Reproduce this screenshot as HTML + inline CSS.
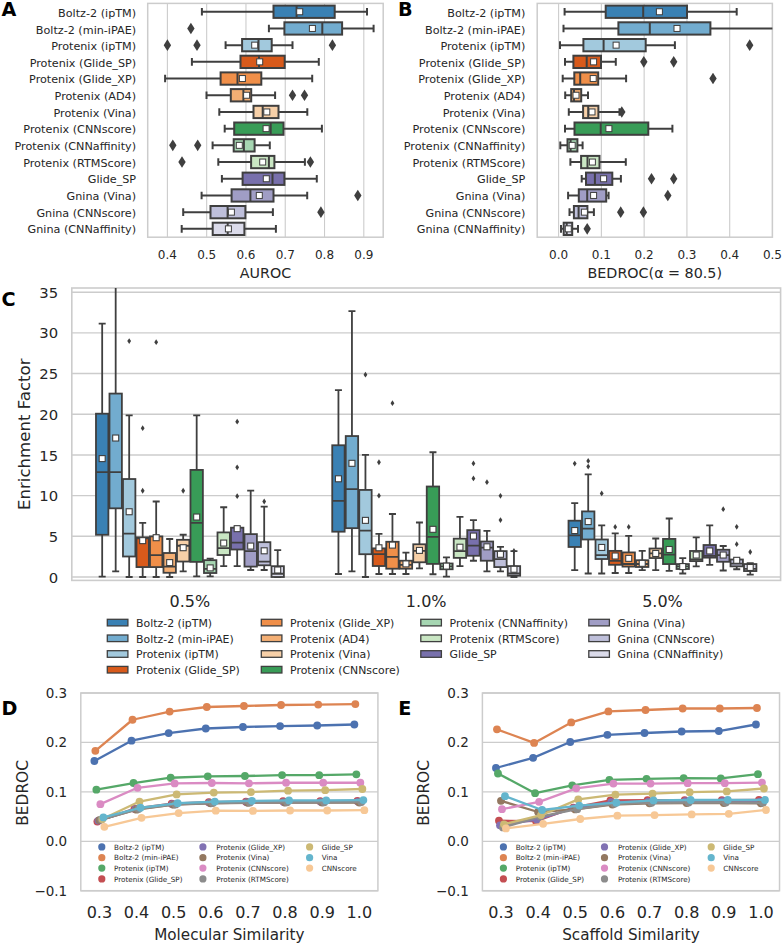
<!DOCTYPE html>
<html><head><meta charset="utf-8"><title>Figure</title>
<style>
html,body{margin:0;padding:0;background:#fff;}
body{width:784px;height:945px;overflow:hidden;}
svg{display:block;}
</style></head><body>
<svg width="784" height="945" viewBox="0 0 784 945">
<clipPath id="c0"><rect x="147.7" y="3.4" width="235.5" height="233.8"/></clipPath>
<line x1="167.4" y1="3.4" x2="167.4" y2="237.2" stroke="#cccccc" stroke-width="1.1"/>
<line x1="206.68" y1="3.4" x2="206.68" y2="237.2" stroke="#cccccc" stroke-width="1.1"/>
<line x1="245.96" y1="3.4" x2="245.96" y2="237.2" stroke="#cccccc" stroke-width="1.1"/>
<line x1="285.24" y1="3.4" x2="285.24" y2="237.2" stroke="#cccccc" stroke-width="1.1"/>
<line x1="324.52" y1="3.4" x2="324.52" y2="237.2" stroke="#cccccc" stroke-width="1.1"/>
<line x1="363.8" y1="3.4" x2="363.8" y2="237.2" stroke="#cccccc" stroke-width="1.1"/>
<rect x="147.7" y="3.4" width="235.5" height="233.8" fill="none" stroke="#cccccc" stroke-width="1.5"/>
<g clip-path="url(#c0)">
<line x1="201.9" y1="11.75" x2="273.5" y2="11.75" stroke="#3f3f3f" stroke-width="2"/>
<line x1="334.7" y1="11.75" x2="367" y2="11.75" stroke="#3f3f3f" stroke-width="2"/>
<line x1="201.9" y1="7.95" x2="201.9" y2="15.55" stroke="#3f3f3f" stroke-width="2"/>
<line x1="367" y1="7.95" x2="367" y2="15.55" stroke="#3f3f3f" stroke-width="2"/>
<rect x="273.5" y="5.6" width="61.2" height="12.3" fill="#3a81b4" stroke="#3f3f3f" stroke-width="2"/>
<line x1="296.6" y1="5.6" x2="296.6" y2="17.9" stroke="#3f3f3f" stroke-width="2"/>
<rect x="296.7" y="8.75" width="6" height="6" fill="#ffffff" stroke="#3f3f3f" stroke-width="1"/>
<line x1="268.9" y1="28.45" x2="284.4" y2="28.45" stroke="#3f3f3f" stroke-width="2"/>
<line x1="342.1" y1="28.45" x2="373.6" y2="28.45" stroke="#3f3f3f" stroke-width="2"/>
<line x1="268.9" y1="24.65" x2="268.9" y2="32.25" stroke="#3f3f3f" stroke-width="2"/>
<line x1="373.6" y1="24.65" x2="373.6" y2="32.25" stroke="#3f3f3f" stroke-width="2"/>
<rect x="284.4" y="22.3" width="57.7" height="12.3" fill="#72accf" stroke="#3f3f3f" stroke-width="2"/>
<line x1="322.3" y1="22.3" x2="322.3" y2="34.6" stroke="#3f3f3f" stroke-width="2"/>
<rect x="309.4" y="25.45" width="6" height="6" fill="#ffffff" stroke="#3f3f3f" stroke-width="1"/>
<path d="M190.9 22.65L194.6 28.45L190.9 34.25L187.2 28.45Z" fill="#3f3f3f"/>
<line x1="225.6" y1="45.15" x2="242.1" y2="45.15" stroke="#3f3f3f" stroke-width="2"/>
<line x1="271.7" y1="45.15" x2="292.5" y2="45.15" stroke="#3f3f3f" stroke-width="2"/>
<line x1="225.6" y1="41.35" x2="225.6" y2="48.95" stroke="#3f3f3f" stroke-width="2"/>
<line x1="292.5" y1="41.35" x2="292.5" y2="48.95" stroke="#3f3f3f" stroke-width="2"/>
<rect x="242.1" y="39" width="29.6" height="12.3" fill="#a2c9dd" stroke="#3f3f3f" stroke-width="2"/>
<line x1="258.5" y1="39" x2="258.5" y2="51.3" stroke="#3f3f3f" stroke-width="2"/>
<rect x="251.7" y="42.15" width="6" height="6" fill="#ffffff" stroke="#3f3f3f" stroke-width="1"/>
<path d="M167.4 39.35L171.1 45.15L167.4 50.95L163.7 45.15Z" fill="#3f3f3f"/>
<path d="M197 39.35L200.7 45.15L197 50.95L193.3 45.15Z" fill="#3f3f3f"/>
<path d="M332.4 39.35L336.1 45.15L332.4 50.95L328.7 45.15Z" fill="#3f3f3f"/>
<line x1="191.9" y1="61.85" x2="240.5" y2="61.85" stroke="#3f3f3f" stroke-width="2"/>
<line x1="284.7" y1="61.85" x2="318.8" y2="61.85" stroke="#3f3f3f" stroke-width="2"/>
<line x1="191.9" y1="58.05" x2="191.9" y2="65.65" stroke="#3f3f3f" stroke-width="2"/>
<line x1="318.8" y1="58.05" x2="318.8" y2="65.65" stroke="#3f3f3f" stroke-width="2"/>
<rect x="240.5" y="55.7" width="44.2" height="12.3" fill="#d85a1b" stroke="#3f3f3f" stroke-width="2"/>
<line x1="259" y1="55.7" x2="259" y2="68" stroke="#3f3f3f" stroke-width="2"/>
<rect x="256.7" y="58.85" width="6" height="6" fill="#ffffff" stroke="#3f3f3f" stroke-width="1"/>
<line x1="165.1" y1="78.55" x2="220.6" y2="78.55" stroke="#3f3f3f" stroke-width="2"/>
<line x1="261.3" y1="78.55" x2="312.2" y2="78.55" stroke="#3f3f3f" stroke-width="2"/>
<line x1="165.1" y1="74.75" x2="165.1" y2="82.35" stroke="#3f3f3f" stroke-width="2"/>
<line x1="312.2" y1="74.75" x2="312.2" y2="82.35" stroke="#3f3f3f" stroke-width="2"/>
<rect x="220.6" y="72.4" width="40.7" height="12.3" fill="#f08f49" stroke="#3f3f3f" stroke-width="2"/>
<line x1="237.5" y1="72.4" x2="237.5" y2="84.7" stroke="#3f3f3f" stroke-width="2"/>
<rect x="239.4" y="75.55" width="6" height="6" fill="#ffffff" stroke="#3f3f3f" stroke-width="1"/>
<line x1="206.5" y1="95.25" x2="230.8" y2="95.25" stroke="#3f3f3f" stroke-width="2"/>
<line x1="251.2" y1="95.25" x2="275.1" y2="95.25" stroke="#3f3f3f" stroke-width="2"/>
<line x1="206.5" y1="91.45" x2="206.5" y2="99.05" stroke="#3f3f3f" stroke-width="2"/>
<line x1="275.1" y1="91.45" x2="275.1" y2="99.05" stroke="#3f3f3f" stroke-width="2"/>
<rect x="230.8" y="89.1" width="20.4" height="12.3" fill="#f4af74" stroke="#3f3f3f" stroke-width="2"/>
<line x1="243.4" y1="89.1" x2="243.4" y2="101.4" stroke="#3f3f3f" stroke-width="2"/>
<rect x="243.6" y="92.25" width="6" height="6" fill="#ffffff" stroke="#3f3f3f" stroke-width="1"/>
<path d="M292.5 89.45L296.2 95.25L292.5 101.05L288.8 95.25Z" fill="#3f3f3f"/>
<path d="M304.5 89.45L308.2 95.25L304.5 101.05L300.8 95.25Z" fill="#3f3f3f"/>
<line x1="219.3" y1="111.95" x2="253.5" y2="111.95" stroke="#3f3f3f" stroke-width="2"/>
<line x1="278.5" y1="111.95" x2="307.3" y2="111.95" stroke="#3f3f3f" stroke-width="2"/>
<line x1="219.3" y1="108.15" x2="219.3" y2="115.75" stroke="#3f3f3f" stroke-width="2"/>
<line x1="307.3" y1="108.15" x2="307.3" y2="115.75" stroke="#3f3f3f" stroke-width="2"/>
<rect x="253.5" y="105.8" width="25" height="12.3" fill="#f7d0a8" stroke="#3f3f3f" stroke-width="2"/>
<line x1="262.7" y1="105.8" x2="262.7" y2="118.1" stroke="#3f3f3f" stroke-width="2"/>
<rect x="263.8" y="108.95" width="6" height="6" fill="#ffffff" stroke="#3f3f3f" stroke-width="1"/>
<line x1="224.7" y1="128.65" x2="234.2" y2="128.65" stroke="#3f3f3f" stroke-width="2"/>
<line x1="283.5" y1="128.65" x2="321.9" y2="128.65" stroke="#3f3f3f" stroke-width="2"/>
<line x1="224.7" y1="124.85" x2="224.7" y2="132.45" stroke="#3f3f3f" stroke-width="2"/>
<line x1="321.9" y1="124.85" x2="321.9" y2="132.45" stroke="#3f3f3f" stroke-width="2"/>
<rect x="234.2" y="122.5" width="49.3" height="12.3" fill="#389c57" stroke="#3f3f3f" stroke-width="2"/>
<line x1="270.7" y1="122.5" x2="270.7" y2="134.8" stroke="#3f3f3f" stroke-width="2"/>
<rect x="263.1" y="125.65" width="6" height="6" fill="#ffffff" stroke="#3f3f3f" stroke-width="1"/>
<line x1="212.6" y1="145.35" x2="233.7" y2="145.35" stroke="#3f3f3f" stroke-width="2"/>
<line x1="254.6" y1="145.35" x2="269.8" y2="145.35" stroke="#3f3f3f" stroke-width="2"/>
<line x1="212.6" y1="141.55" x2="212.6" y2="149.15" stroke="#3f3f3f" stroke-width="2"/>
<line x1="269.8" y1="141.55" x2="269.8" y2="149.15" stroke="#3f3f3f" stroke-width="2"/>
<rect x="233.7" y="139.2" width="20.9" height="12.3" fill="#a6d6b2" stroke="#3f3f3f" stroke-width="2"/>
<line x1="243.9" y1="139.2" x2="243.9" y2="151.5" stroke="#3f3f3f" stroke-width="2"/>
<rect x="236.3" y="142.35" width="6" height="6" fill="#ffffff" stroke="#3f3f3f" stroke-width="1"/>
<path d="M172.8 139.55L176.5 145.35L172.8 151.15L169.1 145.35Z" fill="#3f3f3f"/>
<path d="M197.7 139.55L201.4 145.35L197.7 151.15L194 145.35Z" fill="#3f3f3f"/>
<line x1="218.3" y1="162.05" x2="251.1" y2="162.05" stroke="#3f3f3f" stroke-width="2"/>
<line x1="274.4" y1="162.05" x2="304.9" y2="162.05" stroke="#3f3f3f" stroke-width="2"/>
<line x1="218.3" y1="158.25" x2="218.3" y2="165.85" stroke="#3f3f3f" stroke-width="2"/>
<line x1="304.9" y1="158.25" x2="304.9" y2="165.85" stroke="#3f3f3f" stroke-width="2"/>
<rect x="251.1" y="155.9" width="23.3" height="12.3" fill="#c9e6c3" stroke="#3f3f3f" stroke-width="2"/>
<line x1="268.9" y1="155.9" x2="268.9" y2="168.2" stroke="#3f3f3f" stroke-width="2"/>
<rect x="259.7" y="159.05" width="6" height="6" fill="#ffffff" stroke="#3f3f3f" stroke-width="1"/>
<path d="M182 156.25L185.7 162.05L182 167.85L178.3 162.05Z" fill="#3f3f3f"/>
<path d="M310.4 156.25L314.1 162.05L310.4 167.85L306.7 162.05Z" fill="#3f3f3f"/>
<line x1="221.9" y1="178.75" x2="242.6" y2="178.75" stroke="#3f3f3f" stroke-width="2"/>
<line x1="284.4" y1="178.75" x2="316.8" y2="178.75" stroke="#3f3f3f" stroke-width="2"/>
<line x1="221.9" y1="174.95" x2="221.9" y2="182.55" stroke="#3f3f3f" stroke-width="2"/>
<line x1="316.8" y1="174.95" x2="316.8" y2="182.55" stroke="#3f3f3f" stroke-width="2"/>
<rect x="242.6" y="172.6" width="41.8" height="12.3" fill="#7870ac" stroke="#3f3f3f" stroke-width="2"/>
<line x1="272.5" y1="172.6" x2="272.5" y2="184.9" stroke="#3f3f3f" stroke-width="2"/>
<rect x="263.3" y="175.75" width="6" height="6" fill="#ffffff" stroke="#3f3f3f" stroke-width="1"/>
<line x1="201.6" y1="195.45" x2="231.6" y2="195.45" stroke="#3f3f3f" stroke-width="2"/>
<line x1="273.5" y1="195.45" x2="307.2" y2="195.45" stroke="#3f3f3f" stroke-width="2"/>
<line x1="201.6" y1="191.65" x2="201.6" y2="199.25" stroke="#3f3f3f" stroke-width="2"/>
<line x1="307.2" y1="191.65" x2="307.2" y2="199.25" stroke="#3f3f3f" stroke-width="2"/>
<rect x="231.6" y="189.3" width="41.9" height="12.3" fill="#a09dc5" stroke="#3f3f3f" stroke-width="2"/>
<line x1="250.4" y1="189.3" x2="250.4" y2="201.6" stroke="#3f3f3f" stroke-width="2"/>
<rect x="256.3" y="192.45" width="6" height="6" fill="#ffffff" stroke="#3f3f3f" stroke-width="1"/>
<path d="M357.8 189.65L361.5 195.45L357.8 201.25L354.1 195.45Z" fill="#3f3f3f"/>
<line x1="183.2" y1="212.15" x2="210.5" y2="212.15" stroke="#3f3f3f" stroke-width="2"/>
<line x1="245.4" y1="212.15" x2="272.9" y2="212.15" stroke="#3f3f3f" stroke-width="2"/>
<line x1="183.2" y1="208.35" x2="183.2" y2="215.95" stroke="#3f3f3f" stroke-width="2"/>
<line x1="272.9" y1="208.35" x2="272.9" y2="215.95" stroke="#3f3f3f" stroke-width="2"/>
<rect x="210.5" y="206" width="34.9" height="12.3" fill="#bebfda" stroke="#3f3f3f" stroke-width="2"/>
<line x1="227.6" y1="206" x2="227.6" y2="218.3" stroke="#3f3f3f" stroke-width="2"/>
<rect x="228.4" y="209.15" width="6" height="6" fill="#ffffff" stroke="#3f3f3f" stroke-width="1"/>
<path d="M320.9 206.35L324.6 212.15L320.9 217.95L317.2 212.15Z" fill="#3f3f3f"/>
<line x1="181.7" y1="228.85" x2="212.7" y2="228.85" stroke="#3f3f3f" stroke-width="2"/>
<line x1="244.4" y1="228.85" x2="275.9" y2="228.85" stroke="#3f3f3f" stroke-width="2"/>
<line x1="181.7" y1="225.05" x2="181.7" y2="232.65" stroke="#3f3f3f" stroke-width="2"/>
<line x1="275.9" y1="225.05" x2="275.9" y2="232.65" stroke="#3f3f3f" stroke-width="2"/>
<rect x="212.7" y="222.7" width="31.7" height="12.3" fill="#dbdbea" stroke="#3f3f3f" stroke-width="2"/>
<line x1="227.7" y1="222.7" x2="227.7" y2="235" stroke="#3f3f3f" stroke-width="2"/>
<rect x="225.4" y="225.85" width="6" height="6" fill="#ffffff" stroke="#3f3f3f" stroke-width="1"/>
</g>
<text x="136.1" y="16.9" font-size="11.2" text-anchor="end" font-weight="normal" fill="#262626" font-family="'DejaVu Sans', 'Liberation Sans', sans-serif">Boltz-2 (ipTM)</text>
<text x="136.1" y="33.54" font-size="11.2" text-anchor="end" font-weight="normal" fill="#262626" font-family="'DejaVu Sans', 'Liberation Sans', sans-serif">Boltz-2 (min-iPAE)</text>
<text x="136.1" y="50.18" font-size="11.2" text-anchor="end" font-weight="normal" fill="#262626" font-family="'DejaVu Sans', 'Liberation Sans', sans-serif">Protenix (ipTM)</text>
<text x="136.1" y="66.82" font-size="11.2" text-anchor="end" font-weight="normal" fill="#262626" font-family="'DejaVu Sans', 'Liberation Sans', sans-serif">Protenix (Glide_SP)</text>
<text x="136.1" y="83.46" font-size="11.2" text-anchor="end" font-weight="normal" fill="#262626" font-family="'DejaVu Sans', 'Liberation Sans', sans-serif">Protenix (Glide_XP)</text>
<text x="136.1" y="100.1" font-size="11.2" text-anchor="end" font-weight="normal" fill="#262626" font-family="'DejaVu Sans', 'Liberation Sans', sans-serif">Protenix (AD4)</text>
<text x="136.1" y="116.74" font-size="11.2" text-anchor="end" font-weight="normal" fill="#262626" font-family="'DejaVu Sans', 'Liberation Sans', sans-serif">Protenix (Vina)</text>
<text x="136.1" y="133.38" font-size="11.2" text-anchor="end" font-weight="normal" fill="#262626" font-family="'DejaVu Sans', 'Liberation Sans', sans-serif">Protenix (CNNscore)</text>
<text x="136.1" y="150.02" font-size="11.2" text-anchor="end" font-weight="normal" fill="#262626" font-family="'DejaVu Sans', 'Liberation Sans', sans-serif">Protenix (CNNaffinity)</text>
<text x="136.1" y="166.66" font-size="11.2" text-anchor="end" font-weight="normal" fill="#262626" font-family="'DejaVu Sans', 'Liberation Sans', sans-serif">Protenix (RTMScore)</text>
<text x="136.1" y="183.3" font-size="11.2" text-anchor="end" font-weight="normal" fill="#262626" font-family="'DejaVu Sans', 'Liberation Sans', sans-serif">Glide_SP</text>
<text x="136.1" y="199.94" font-size="11.2" text-anchor="end" font-weight="normal" fill="#262626" font-family="'DejaVu Sans', 'Liberation Sans', sans-serif">Gnina (Vina)</text>
<text x="136.1" y="216.58" font-size="11.2" text-anchor="end" font-weight="normal" fill="#262626" font-family="'DejaVu Sans', 'Liberation Sans', sans-serif">Gnina (CNNscore)</text>
<text x="136.1" y="233.22" font-size="11.2" text-anchor="end" font-weight="normal" fill="#262626" font-family="'DejaVu Sans', 'Liberation Sans', sans-serif">Gnina (CNNaffinity)</text>
<text x="167.4" y="258.7" font-size="12" text-anchor="middle" font-weight="normal" fill="#262626" font-family="'DejaVu Sans', 'Liberation Sans', sans-serif">0.4</text>
<text x="206.68" y="258.7" font-size="12" text-anchor="middle" font-weight="normal" fill="#262626" font-family="'DejaVu Sans', 'Liberation Sans', sans-serif">0.5</text>
<text x="245.96" y="258.7" font-size="12" text-anchor="middle" font-weight="normal" fill="#262626" font-family="'DejaVu Sans', 'Liberation Sans', sans-serif">0.6</text>
<text x="285.24" y="258.7" font-size="12" text-anchor="middle" font-weight="normal" fill="#262626" font-family="'DejaVu Sans', 'Liberation Sans', sans-serif">0.7</text>
<text x="324.52" y="258.7" font-size="12" text-anchor="middle" font-weight="normal" fill="#262626" font-family="'DejaVu Sans', 'Liberation Sans', sans-serif">0.8</text>
<text x="363.8" y="258.7" font-size="12" text-anchor="middle" font-weight="normal" fill="#262626" font-family="'DejaVu Sans', 'Liberation Sans', sans-serif">0.9</text>
<text x="265.45" y="277.6" font-size="14.3" text-anchor="middle" font-weight="normal" fill="#262626" font-family="'DejaVu Sans', 'Liberation Sans', sans-serif">AUROC</text>
<clipPath id="c141"><rect x="537.2" y="3.4" width="235.2" height="233.8"/></clipPath>
<line x1="558.6" y1="3.4" x2="558.6" y2="237.2" stroke="#cccccc" stroke-width="1.1"/>
<line x1="601.38" y1="3.4" x2="601.38" y2="237.2" stroke="#cccccc" stroke-width="1.1"/>
<line x1="644.15" y1="3.4" x2="644.15" y2="237.2" stroke="#cccccc" stroke-width="1.1"/>
<line x1="686.93" y1="3.4" x2="686.93" y2="237.2" stroke="#cccccc" stroke-width="1.1"/>
<line x1="729.7" y1="3.4" x2="729.7" y2="237.2" stroke="#cccccc" stroke-width="1.1"/>
<line x1="772.48" y1="3.4" x2="772.48" y2="237.2" stroke="#cccccc" stroke-width="1.1"/>
<rect x="537.2" y="3.4" width="235.2" height="233.8" fill="none" stroke="#cccccc" stroke-width="1.5"/>
<g clip-path="url(#c141)">
<line x1="564.6" y1="11.75" x2="605.7" y2="11.75" stroke="#3f3f3f" stroke-width="2"/>
<line x1="687" y1="11.75" x2="736.7" y2="11.75" stroke="#3f3f3f" stroke-width="2"/>
<line x1="564.6" y1="7.95" x2="564.6" y2="15.55" stroke="#3f3f3f" stroke-width="2"/>
<line x1="736.7" y1="7.95" x2="736.7" y2="15.55" stroke="#3f3f3f" stroke-width="2"/>
<rect x="605.7" y="5.6" width="81.3" height="12.3" fill="#3a81b4" stroke="#3f3f3f" stroke-width="2"/>
<line x1="643.2" y1="5.6" x2="643.2" y2="17.9" stroke="#3f3f3f" stroke-width="2"/>
<rect x="656.4" y="8.75" width="6" height="6" fill="#ffffff" stroke="#3f3f3f" stroke-width="1"/>
<line x1="563.5" y1="28.45" x2="618.4" y2="28.45" stroke="#3f3f3f" stroke-width="2"/>
<line x1="710.4" y1="28.45" x2="800" y2="28.45" stroke="#3f3f3f" stroke-width="2"/>
<line x1="563.5" y1="24.65" x2="563.5" y2="32.25" stroke="#3f3f3f" stroke-width="2"/>
<line x1="800" y1="24.65" x2="800" y2="32.25" stroke="#3f3f3f" stroke-width="2"/>
<rect x="618.4" y="22.3" width="92" height="12.3" fill="#72accf" stroke="#3f3f3f" stroke-width="2"/>
<line x1="649.8" y1="22.3" x2="649.8" y2="34.6" stroke="#3f3f3f" stroke-width="2"/>
<rect x="674" y="25.45" width="6" height="6" fill="#ffffff" stroke="#3f3f3f" stroke-width="1"/>
<line x1="560" y1="45.15" x2="583.4" y2="45.15" stroke="#3f3f3f" stroke-width="2"/>
<line x1="645.7" y1="45.15" x2="674.9" y2="45.15" stroke="#3f3f3f" stroke-width="2"/>
<line x1="560" y1="41.35" x2="560" y2="48.95" stroke="#3f3f3f" stroke-width="2"/>
<line x1="674.9" y1="41.35" x2="674.9" y2="48.95" stroke="#3f3f3f" stroke-width="2"/>
<rect x="583.4" y="39" width="62.3" height="12.3" fill="#a2c9dd" stroke="#3f3f3f" stroke-width="2"/>
<line x1="603.6" y1="39" x2="603.6" y2="51.3" stroke="#3f3f3f" stroke-width="2"/>
<rect x="613.1" y="42.15" width="6" height="6" fill="#ffffff" stroke="#3f3f3f" stroke-width="1"/>
<path d="M749.7 39.35L753.4 45.15L749.7 50.95L746 45.15Z" fill="#3f3f3f"/>
<line x1="565" y1="61.85" x2="573.4" y2="61.85" stroke="#3f3f3f" stroke-width="2"/>
<line x1="601" y1="61.85" x2="615.8" y2="61.85" stroke="#3f3f3f" stroke-width="2"/>
<line x1="565" y1="58.05" x2="565" y2="65.65" stroke="#3f3f3f" stroke-width="2"/>
<line x1="615.8" y1="58.05" x2="615.8" y2="65.65" stroke="#3f3f3f" stroke-width="2"/>
<rect x="573.4" y="55.7" width="27.6" height="12.3" fill="#d85a1b" stroke="#3f3f3f" stroke-width="2"/>
<line x1="586.7" y1="55.7" x2="586.7" y2="68" stroke="#3f3f3f" stroke-width="2"/>
<rect x="590.6" y="58.85" width="6" height="6" fill="#ffffff" stroke="#3f3f3f" stroke-width="1"/>
<path d="M643.8 56.05L647.5 61.85L643.8 67.65L640.1 61.85Z" fill="#3f3f3f"/>
<path d="M673.7 56.05L677.4 61.85L673.7 67.65L670 61.85Z" fill="#3f3f3f"/>
<line x1="562.7" y1="78.55" x2="574.3" y2="78.55" stroke="#3f3f3f" stroke-width="2"/>
<line x1="598.2" y1="78.55" x2="626.1" y2="78.55" stroke="#3f3f3f" stroke-width="2"/>
<line x1="562.7" y1="74.75" x2="562.7" y2="82.35" stroke="#3f3f3f" stroke-width="2"/>
<line x1="626.1" y1="74.75" x2="626.1" y2="82.35" stroke="#3f3f3f" stroke-width="2"/>
<rect x="574.3" y="72.4" width="23.9" height="12.3" fill="#f08f49" stroke="#3f3f3f" stroke-width="2"/>
<line x1="580.2" y1="72.4" x2="580.2" y2="84.7" stroke="#3f3f3f" stroke-width="2"/>
<rect x="590.2" y="75.55" width="6" height="6" fill="#ffffff" stroke="#3f3f3f" stroke-width="1"/>
<path d="M713 72.75L716.7 78.55L713 84.35L709.3 78.55Z" fill="#3f3f3f"/>
<line x1="565.2" y1="95.25" x2="571.2" y2="95.25" stroke="#3f3f3f" stroke-width="2"/>
<line x1="581.2" y1="95.25" x2="588" y2="95.25" stroke="#3f3f3f" stroke-width="2"/>
<line x1="565.2" y1="91.45" x2="565.2" y2="99.05" stroke="#3f3f3f" stroke-width="2"/>
<line x1="588" y1="91.45" x2="588" y2="99.05" stroke="#3f3f3f" stroke-width="2"/>
<rect x="571.2" y="89.1" width="10" height="12.3" fill="#f4af74" stroke="#3f3f3f" stroke-width="2"/>
<line x1="574" y1="89.1" x2="574" y2="101.4" stroke="#3f3f3f" stroke-width="2"/>
<rect x="573" y="92.25" width="6" height="6" fill="#ffffff" stroke="#3f3f3f" stroke-width="1"/>
<line x1="568.8" y1="111.95" x2="583.1" y2="111.95" stroke="#3f3f3f" stroke-width="2"/>
<line x1="598.4" y1="111.95" x2="619.5" y2="111.95" stroke="#3f3f3f" stroke-width="2"/>
<line x1="568.8" y1="108.15" x2="568.8" y2="115.75" stroke="#3f3f3f" stroke-width="2"/>
<line x1="619.5" y1="108.15" x2="619.5" y2="115.75" stroke="#3f3f3f" stroke-width="2"/>
<rect x="583.1" y="105.8" width="15.3" height="12.3" fill="#f7d0a8" stroke="#3f3f3f" stroke-width="2"/>
<line x1="588.2" y1="105.8" x2="588.2" y2="118.1" stroke="#3f3f3f" stroke-width="2"/>
<rect x="589" y="108.95" width="6" height="6" fill="#ffffff" stroke="#3f3f3f" stroke-width="1"/>
<path d="M621.8 106.15L625.5 111.95L621.8 117.75L618.1 111.95Z" fill="#3f3f3f"/>
<line x1="565" y1="128.65" x2="574.5" y2="128.65" stroke="#3f3f3f" stroke-width="2"/>
<line x1="648.3" y1="128.65" x2="672.4" y2="128.65" stroke="#3f3f3f" stroke-width="2"/>
<line x1="565" y1="124.85" x2="565" y2="132.45" stroke="#3f3f3f" stroke-width="2"/>
<line x1="672.4" y1="124.85" x2="672.4" y2="132.45" stroke="#3f3f3f" stroke-width="2"/>
<rect x="574.5" y="122.5" width="73.8" height="12.3" fill="#389c57" stroke="#3f3f3f" stroke-width="2"/>
<line x1="600.7" y1="122.5" x2="600.7" y2="134.8" stroke="#3f3f3f" stroke-width="2"/>
<rect x="605.9" y="125.65" width="6" height="6" fill="#ffffff" stroke="#3f3f3f" stroke-width="1"/>
<line x1="560.3" y1="145.35" x2="567.5" y2="145.35" stroke="#3f3f3f" stroke-width="2"/>
<line x1="577.4" y1="145.35" x2="582.6" y2="145.35" stroke="#3f3f3f" stroke-width="2"/>
<line x1="560.3" y1="141.55" x2="560.3" y2="149.15" stroke="#3f3f3f" stroke-width="2"/>
<line x1="582.6" y1="141.55" x2="582.6" y2="149.15" stroke="#3f3f3f" stroke-width="2"/>
<rect x="567.5" y="139.2" width="9.9" height="12.3" fill="#a6d6b2" stroke="#3f3f3f" stroke-width="2"/>
<line x1="570.6" y1="139.2" x2="570.6" y2="151.5" stroke="#3f3f3f" stroke-width="2"/>
<rect x="569.2" y="142.35" width="6" height="6" fill="#ffffff" stroke="#3f3f3f" stroke-width="1"/>
<line x1="570.4" y1="162.05" x2="581.1" y2="162.05" stroke="#3f3f3f" stroke-width="2"/>
<line x1="599.5" y1="162.05" x2="625.8" y2="162.05" stroke="#3f3f3f" stroke-width="2"/>
<line x1="570.4" y1="158.25" x2="570.4" y2="165.85" stroke="#3f3f3f" stroke-width="2"/>
<line x1="625.8" y1="158.25" x2="625.8" y2="165.85" stroke="#3f3f3f" stroke-width="2"/>
<rect x="581.1" y="155.9" width="18.4" height="12.3" fill="#c9e6c3" stroke="#3f3f3f" stroke-width="2"/>
<line x1="587.5" y1="155.9" x2="587.5" y2="168.2" stroke="#3f3f3f" stroke-width="2"/>
<rect x="589.4" y="159.05" width="6" height="6" fill="#ffffff" stroke="#3f3f3f" stroke-width="1"/>
<line x1="581.7" y1="178.75" x2="586" y2="178.75" stroke="#3f3f3f" stroke-width="2"/>
<line x1="612.3" y1="178.75" x2="620.9" y2="178.75" stroke="#3f3f3f" stroke-width="2"/>
<line x1="581.7" y1="174.95" x2="581.7" y2="182.55" stroke="#3f3f3f" stroke-width="2"/>
<line x1="620.9" y1="174.95" x2="620.9" y2="182.55" stroke="#3f3f3f" stroke-width="2"/>
<rect x="586" y="172.6" width="26.3" height="12.3" fill="#7870ac" stroke="#3f3f3f" stroke-width="2"/>
<line x1="594.9" y1="172.6" x2="594.9" y2="184.9" stroke="#3f3f3f" stroke-width="2"/>
<rect x="600.6" y="175.75" width="6" height="6" fill="#ffffff" stroke="#3f3f3f" stroke-width="1"/>
<path d="M651.5 172.95L655.2 178.75L651.5 184.55L647.8 178.75Z" fill="#3f3f3f"/>
<path d="M673.7 172.95L677.4 178.75L673.7 184.55L670 178.75Z" fill="#3f3f3f"/>
<line x1="568.1" y1="195.45" x2="578.8" y2="195.45" stroke="#3f3f3f" stroke-width="2"/>
<line x1="606.2" y1="195.45" x2="608.6" y2="195.45" stroke="#3f3f3f" stroke-width="2"/>
<line x1="568.1" y1="191.65" x2="568.1" y2="199.25" stroke="#3f3f3f" stroke-width="2"/>
<line x1="608.6" y1="191.65" x2="608.6" y2="199.25" stroke="#3f3f3f" stroke-width="2"/>
<rect x="578.8" y="189.3" width="27.4" height="12.3" fill="#a09dc5" stroke="#3f3f3f" stroke-width="2"/>
<line x1="587.2" y1="189.3" x2="587.2" y2="201.6" stroke="#3f3f3f" stroke-width="2"/>
<rect x="590.6" y="192.45" width="6" height="6" fill="#ffffff" stroke="#3f3f3f" stroke-width="1"/>
<path d="M667.8 189.65L671.5 195.45L667.8 201.25L664.1 195.45Z" fill="#3f3f3f"/>
<line x1="569.5" y1="212.15" x2="573.9" y2="212.15" stroke="#3f3f3f" stroke-width="2"/>
<line x1="587.4" y1="212.15" x2="593.9" y2="212.15" stroke="#3f3f3f" stroke-width="2"/>
<line x1="569.5" y1="208.35" x2="569.5" y2="215.95" stroke="#3f3f3f" stroke-width="2"/>
<line x1="593.9" y1="208.35" x2="593.9" y2="215.95" stroke="#3f3f3f" stroke-width="2"/>
<rect x="573.9" y="206" width="13.5" height="12.3" fill="#bebfda" stroke="#3f3f3f" stroke-width="2"/>
<line x1="578.6" y1="206" x2="578.6" y2="218.3" stroke="#3f3f3f" stroke-width="2"/>
<rect x="581.4" y="209.15" width="6" height="6" fill="#ffffff" stroke="#3f3f3f" stroke-width="1"/>
<path d="M620.7 206.35L624.4 212.15L620.7 217.95L617 212.15Z" fill="#3f3f3f"/>
<path d="M643.4 206.35L647.1 212.15L643.4 217.95L639.7 212.15Z" fill="#3f3f3f"/>
<line x1="561" y1="228.85" x2="563.7" y2="228.85" stroke="#3f3f3f" stroke-width="2"/>
<line x1="572.2" y1="228.85" x2="578" y2="228.85" stroke="#3f3f3f" stroke-width="2"/>
<line x1="561" y1="225.05" x2="561" y2="232.65" stroke="#3f3f3f" stroke-width="2"/>
<line x1="578" y1="225.05" x2="578" y2="232.65" stroke="#3f3f3f" stroke-width="2"/>
<rect x="563.7" y="222.7" width="8.5" height="12.3" fill="#dbdbea" stroke="#3f3f3f" stroke-width="2"/>
<line x1="566.7" y1="222.7" x2="566.7" y2="235" stroke="#3f3f3f" stroke-width="2"/>
<rect x="565.3" y="225.85" width="6" height="6" fill="#ffffff" stroke="#3f3f3f" stroke-width="1"/>
<path d="M587.2 223.05L590.9 228.85L587.2 234.65L583.5 228.85Z" fill="#3f3f3f"/>
</g>
<text x="525.3" y="16.9" font-size="11.2" text-anchor="end" font-weight="normal" fill="#262626" font-family="'DejaVu Sans', 'Liberation Sans', sans-serif">Boltz-2 (ipTM)</text>
<text x="525.3" y="33.54" font-size="11.2" text-anchor="end" font-weight="normal" fill="#262626" font-family="'DejaVu Sans', 'Liberation Sans', sans-serif">Boltz-2 (min-iPAE)</text>
<text x="525.3" y="50.18" font-size="11.2" text-anchor="end" font-weight="normal" fill="#262626" font-family="'DejaVu Sans', 'Liberation Sans', sans-serif">Protenix (ipTM)</text>
<text x="525.3" y="66.82" font-size="11.2" text-anchor="end" font-weight="normal" fill="#262626" font-family="'DejaVu Sans', 'Liberation Sans', sans-serif">Protenix (Glide_SP)</text>
<text x="525.3" y="83.46" font-size="11.2" text-anchor="end" font-weight="normal" fill="#262626" font-family="'DejaVu Sans', 'Liberation Sans', sans-serif">Protenix (Glide_XP)</text>
<text x="525.3" y="100.1" font-size="11.2" text-anchor="end" font-weight="normal" fill="#262626" font-family="'DejaVu Sans', 'Liberation Sans', sans-serif">Protenix (AD4)</text>
<text x="525.3" y="116.74" font-size="11.2" text-anchor="end" font-weight="normal" fill="#262626" font-family="'DejaVu Sans', 'Liberation Sans', sans-serif">Protenix (Vina)</text>
<text x="525.3" y="133.38" font-size="11.2" text-anchor="end" font-weight="normal" fill="#262626" font-family="'DejaVu Sans', 'Liberation Sans', sans-serif">Protenix (CNNscore)</text>
<text x="525.3" y="150.02" font-size="11.2" text-anchor="end" font-weight="normal" fill="#262626" font-family="'DejaVu Sans', 'Liberation Sans', sans-serif">Protenix (CNNaffinity)</text>
<text x="525.3" y="166.66" font-size="11.2" text-anchor="end" font-weight="normal" fill="#262626" font-family="'DejaVu Sans', 'Liberation Sans', sans-serif">Protenix (RTMScore)</text>
<text x="525.3" y="183.3" font-size="11.2" text-anchor="end" font-weight="normal" fill="#262626" font-family="'DejaVu Sans', 'Liberation Sans', sans-serif">Glide_SP</text>
<text x="525.3" y="199.94" font-size="11.2" text-anchor="end" font-weight="normal" fill="#262626" font-family="'DejaVu Sans', 'Liberation Sans', sans-serif">Gnina (Vina)</text>
<text x="525.3" y="216.58" font-size="11.2" text-anchor="end" font-weight="normal" fill="#262626" font-family="'DejaVu Sans', 'Liberation Sans', sans-serif">Gnina (CNNscore)</text>
<text x="525.3" y="233.22" font-size="11.2" text-anchor="end" font-weight="normal" fill="#262626" font-family="'DejaVu Sans', 'Liberation Sans', sans-serif">Gnina (CNNaffinity)</text>
<text x="558.6" y="258.7" font-size="12" text-anchor="middle" font-weight="normal" fill="#262626" font-family="'DejaVu Sans', 'Liberation Sans', sans-serif">0.0</text>
<text x="601.38" y="258.7" font-size="12" text-anchor="middle" font-weight="normal" fill="#262626" font-family="'DejaVu Sans', 'Liberation Sans', sans-serif">0.1</text>
<text x="644.15" y="258.7" font-size="12" text-anchor="middle" font-weight="normal" fill="#262626" font-family="'DejaVu Sans', 'Liberation Sans', sans-serif">0.2</text>
<text x="686.93" y="258.7" font-size="12" text-anchor="middle" font-weight="normal" fill="#262626" font-family="'DejaVu Sans', 'Liberation Sans', sans-serif">0.3</text>
<text x="729.7" y="258.7" font-size="12" text-anchor="middle" font-weight="normal" fill="#262626" font-family="'DejaVu Sans', 'Liberation Sans', sans-serif">0.4</text>
<text x="772.48" y="258.7" font-size="12" text-anchor="middle" font-weight="normal" fill="#262626" font-family="'DejaVu Sans', 'Liberation Sans', sans-serif">0.5</text>
<text x="654.8" y="277.6" font-size="14.3" text-anchor="middle" font-weight="normal" fill="#262626" font-family="'DejaVu Sans', 'Liberation Sans', sans-serif">BEDROC(α = 80.5)</text>
<text x="1.6" y="15.8" font-size="19.2" text-anchor="start" font-weight="bold" fill="#000" font-family="'DejaVu Sans', sans-serif">A</text>
<text x="397.9" y="15.8" font-size="19.2" text-anchor="start" font-weight="bold" fill="#000" font-family="'DejaVu Sans', sans-serif">B</text>
<line x1="71.8" y1="577" x2="780.6" y2="577" stroke="#cccccc" stroke-width="1.4"/>
<text x="58.2" y="582.6" font-size="14.8" text-anchor="end" font-weight="normal" fill="#262626" font-family="'DejaVu Sans', 'Liberation Sans', sans-serif">0</text>
<line x1="71.8" y1="536.31" x2="780.6" y2="536.31" stroke="#cccccc" stroke-width="1.4"/>
<text x="58.2" y="541.91" font-size="14.8" text-anchor="end" font-weight="normal" fill="#262626" font-family="'DejaVu Sans', 'Liberation Sans', sans-serif">5</text>
<line x1="71.8" y1="495.63" x2="780.6" y2="495.63" stroke="#cccccc" stroke-width="1.4"/>
<text x="58.2" y="501.23" font-size="14.8" text-anchor="end" font-weight="normal" fill="#262626" font-family="'DejaVu Sans', 'Liberation Sans', sans-serif">10</text>
<line x1="71.8" y1="454.94" x2="780.6" y2="454.94" stroke="#cccccc" stroke-width="1.4"/>
<text x="58.2" y="460.54" font-size="14.8" text-anchor="end" font-weight="normal" fill="#262626" font-family="'DejaVu Sans', 'Liberation Sans', sans-serif">15</text>
<line x1="71.8" y1="414.26" x2="780.6" y2="414.26" stroke="#cccccc" stroke-width="1.4"/>
<text x="58.2" y="419.86" font-size="14.8" text-anchor="end" font-weight="normal" fill="#262626" font-family="'DejaVu Sans', 'Liberation Sans', sans-serif">20</text>
<line x1="71.8" y1="373.57" x2="780.6" y2="373.57" stroke="#cccccc" stroke-width="1.4"/>
<text x="58.2" y="379.17" font-size="14.8" text-anchor="end" font-weight="normal" fill="#262626" font-family="'DejaVu Sans', 'Liberation Sans', sans-serif">25</text>
<line x1="71.8" y1="332.89" x2="780.6" y2="332.89" stroke="#cccccc" stroke-width="1.4"/>
<text x="58.2" y="338.49" font-size="14.8" text-anchor="end" font-weight="normal" fill="#262626" font-family="'DejaVu Sans', 'Liberation Sans', sans-serif">30</text>
<line x1="71.8" y1="292.2" x2="780.6" y2="292.2" stroke="#cccccc" stroke-width="1.4"/>
<text x="58.2" y="297.8" font-size="14.8" text-anchor="end" font-weight="normal" fill="#262626" font-family="'DejaVu Sans', 'Liberation Sans', sans-serif">35</text>
<rect x="71.8" y="288" width="708.8" height="292.4" fill="none" stroke="#cccccc" stroke-width="1.6"/>
<clipPath id="cc"><rect x="71.8" y="288" width="708.8" height="292.4"/></clipPath>
<g clip-path="url(#cc)">
<line x1="102.18" y1="576.59" x2="102.18" y2="534.77" stroke="#3f3f3f" stroke-width="1.8"/>
<line x1="102.18" y1="413.69" x2="102.18" y2="323.69" stroke="#3f3f3f" stroke-width="1.8"/>
<line x1="98.68" y1="576.59" x2="105.68" y2="576.59" stroke="#3f3f3f" stroke-width="1.8"/>
<line x1="98.68" y1="323.69" x2="105.68" y2="323.69" stroke="#3f3f3f" stroke-width="1.8"/>
<rect x="95.98" y="413.69" width="12.4" height="121.08" fill="#3a81b4" stroke="#3f3f3f" stroke-width="1.8"/>
<line x1="95.98" y1="472.11" x2="108.38" y2="472.11" stroke="#3f3f3f" stroke-width="1.8"/>
<rect x="99.18" y="455.6" width="6" height="6" fill="#ffffff" stroke="#3f3f3f" stroke-width="1.1"/>
<line x1="115.68" y1="571.47" x2="115.68" y2="508.32" stroke="#3f3f3f" stroke-width="1.8"/>
<line x1="115.68" y1="393.59" x2="115.68" y2="275.93" stroke="#3f3f3f" stroke-width="1.8"/>
<line x1="112.18" y1="571.47" x2="119.18" y2="571.47" stroke="#3f3f3f" stroke-width="1.8"/>
<line x1="112.18" y1="275.93" x2="119.18" y2="275.93" stroke="#3f3f3f" stroke-width="1.8"/>
<rect x="109.48" y="393.59" width="12.4" height="114.73" fill="#72accf" stroke="#3f3f3f" stroke-width="1.8"/>
<line x1="109.48" y1="472.11" x2="121.88" y2="472.11" stroke="#3f3f3f" stroke-width="1.8"/>
<rect x="112.68" y="435.02" width="6" height="6" fill="#ffffff" stroke="#3f3f3f" stroke-width="1.1"/>
<line x1="129.18" y1="577" x2="129.18" y2="556.49" stroke="#3f3f3f" stroke-width="1.8"/>
<line x1="129.18" y1="479.03" x2="129.18" y2="415.31" stroke="#3f3f3f" stroke-width="1.8"/>
<line x1="125.68" y1="577" x2="132.68" y2="577" stroke="#3f3f3f" stroke-width="1.8"/>
<line x1="125.68" y1="415.31" x2="132.68" y2="415.31" stroke="#3f3f3f" stroke-width="1.8"/>
<rect x="122.98" y="479.03" width="12.4" height="77.47" fill="#a2c9dd" stroke="#3f3f3f" stroke-width="1.8"/>
<line x1="122.98" y1="533.71" x2="135.38" y2="533.71" stroke="#3f3f3f" stroke-width="1.8"/>
<rect x="126.18" y="508.74" width="6" height="6" fill="#ffffff" stroke="#3f3f3f" stroke-width="1.1"/>
<path d="M129.18 338.2L131.08 341.1L129.18 344L127.28 341.1Z" fill="#3f3f3f"/>
<line x1="142.68" y1="577" x2="142.68" y2="567.07" stroke="#3f3f3f" stroke-width="1.8"/>
<line x1="142.68" y1="537.37" x2="142.68" y2="522.89" stroke="#3f3f3f" stroke-width="1.8"/>
<line x1="139.18" y1="577" x2="146.18" y2="577" stroke="#3f3f3f" stroke-width="1.8"/>
<line x1="139.18" y1="522.89" x2="146.18" y2="522.89" stroke="#3f3f3f" stroke-width="1.8"/>
<rect x="136.48" y="537.37" width="12.4" height="29.7" fill="#d85a1b" stroke="#3f3f3f" stroke-width="1.8"/>
<line x1="136.48" y1="538.35" x2="148.88" y2="538.35" stroke="#3f3f3f" stroke-width="1.8"/>
<rect x="139.68" y="537.63" width="6" height="6" fill="#ffffff" stroke="#3f3f3f" stroke-width="1.1"/>
<path d="M142.68 425.27L144.58 428.17L142.68 431.07L140.78 428.17Z" fill="#3f3f3f"/>
<path d="M142.68 487.85L144.58 490.75L142.68 493.65L140.78 490.75Z" fill="#3f3f3f"/>
<line x1="156.18" y1="577" x2="156.18" y2="567.07" stroke="#3f3f3f" stroke-width="1.8"/>
<line x1="156.18" y1="536.4" x2="156.18" y2="501.49" stroke="#3f3f3f" stroke-width="1.8"/>
<line x1="152.68" y1="577" x2="159.68" y2="577" stroke="#3f3f3f" stroke-width="1.8"/>
<line x1="152.68" y1="501.49" x2="159.68" y2="501.49" stroke="#3f3f3f" stroke-width="1.8"/>
<rect x="149.98" y="536.4" width="12.4" height="30.68" fill="#f08f49" stroke="#3f3f3f" stroke-width="1.8"/>
<line x1="149.98" y1="555.11" x2="162.38" y2="555.11" stroke="#3f3f3f" stroke-width="1.8"/>
<rect x="153.18" y="534.7" width="6" height="6" fill="#ffffff" stroke="#3f3f3f" stroke-width="1.1"/>
<path d="M156.18 339.26L158.08 342.16L156.18 345.06L154.28 342.16Z" fill="#3f3f3f"/>
<line x1="169.68" y1="577" x2="169.68" y2="572.77" stroke="#3f3f3f" stroke-width="1.8"/>
<line x1="169.68" y1="553" x2="169.68" y2="539" stroke="#3f3f3f" stroke-width="1.8"/>
<line x1="166.18" y1="577" x2="173.18" y2="577" stroke="#3f3f3f" stroke-width="1.8"/>
<line x1="166.18" y1="539" x2="173.18" y2="539" stroke="#3f3f3f" stroke-width="1.8"/>
<rect x="163.48" y="553" width="12.4" height="19.77" fill="#f4af74" stroke="#3f3f3f" stroke-width="1.8"/>
<line x1="163.48" y1="566.67" x2="175.88" y2="566.67" stroke="#3f3f3f" stroke-width="1.8"/>
<rect x="166.68" y="559.6" width="6" height="6" fill="#ffffff" stroke="#3f3f3f" stroke-width="1.1"/>
<line x1="183.18" y1="571.47" x2="183.18" y2="561.54" stroke="#3f3f3f" stroke-width="1.8"/>
<line x1="183.18" y1="539.81" x2="183.18" y2="534.77" stroke="#3f3f3f" stroke-width="1.8"/>
<line x1="179.68" y1="571.47" x2="186.68" y2="571.47" stroke="#3f3f3f" stroke-width="1.8"/>
<line x1="179.68" y1="534.77" x2="186.68" y2="534.77" stroke="#3f3f3f" stroke-width="1.8"/>
<rect x="176.98" y="539.81" width="12.4" height="21.73" fill="#f7d0a8" stroke="#3f3f3f" stroke-width="1.8"/>
<line x1="176.98" y1="545.75" x2="189.38" y2="545.75" stroke="#3f3f3f" stroke-width="1.8"/>
<rect x="180.18" y="544.71" width="6" height="6" fill="#ffffff" stroke="#3f3f3f" stroke-width="1.1"/>
<path d="M183.18 487.85L185.08 490.75L183.18 493.65L181.28 490.75Z" fill="#3f3f3f"/>
<line x1="196.68" y1="576.43" x2="196.68" y2="561.86" stroke="#3f3f3f" stroke-width="1.8"/>
<line x1="196.68" y1="469.92" x2="196.68" y2="415.31" stroke="#3f3f3f" stroke-width="1.8"/>
<line x1="193.18" y1="576.43" x2="200.18" y2="576.43" stroke="#3f3f3f" stroke-width="1.8"/>
<line x1="193.18" y1="415.31" x2="200.18" y2="415.31" stroke="#3f3f3f" stroke-width="1.8"/>
<rect x="190.48" y="469.92" width="12.4" height="91.95" fill="#389c57" stroke="#3f3f3f" stroke-width="1.8"/>
<line x1="190.48" y1="522.97" x2="202.88" y2="522.97" stroke="#3f3f3f" stroke-width="1.8"/>
<rect x="193.68" y="514.03" width="6" height="6" fill="#ffffff" stroke="#3f3f3f" stroke-width="1.1"/>
<line x1="210.18" y1="576.43" x2="210.18" y2="573.01" stroke="#3f3f3f" stroke-width="1.8"/>
<line x1="210.18" y1="560.16" x2="210.18" y2="558.69" stroke="#3f3f3f" stroke-width="1.8"/>
<line x1="206.68" y1="576.43" x2="213.68" y2="576.43" stroke="#3f3f3f" stroke-width="1.8"/>
<line x1="206.68" y1="558.69" x2="213.68" y2="558.69" stroke="#3f3f3f" stroke-width="1.8"/>
<rect x="203.98" y="560.16" width="12.4" height="12.86" fill="#a6d6b2" stroke="#3f3f3f" stroke-width="1.8"/>
<line x1="203.98" y1="568.86" x2="216.38" y2="568.86" stroke="#3f3f3f" stroke-width="1.8"/>
<rect x="207.18" y="564.89" width="6" height="6" fill="#ffffff" stroke="#3f3f3f" stroke-width="1.1"/>
<line x1="223.69" y1="566.18" x2="223.69" y2="555.03" stroke="#3f3f3f" stroke-width="1.8"/>
<line x1="223.69" y1="532.41" x2="223.69" y2="507.26" stroke="#3f3f3f" stroke-width="1.8"/>
<line x1="220.19" y1="566.18" x2="227.19" y2="566.18" stroke="#3f3f3f" stroke-width="1.8"/>
<line x1="220.19" y1="507.26" x2="227.19" y2="507.26" stroke="#3f3f3f" stroke-width="1.8"/>
<rect x="217.49" y="532.41" width="12.4" height="22.62" fill="#c9e6c3" stroke="#3f3f3f" stroke-width="1.8"/>
<line x1="217.49" y1="548.03" x2="229.89" y2="548.03" stroke="#3f3f3f" stroke-width="1.8"/>
<rect x="220.69" y="540.07" width="6" height="6" fill="#ffffff" stroke="#3f3f3f" stroke-width="1.1"/>
<line x1="237.19" y1="566.18" x2="237.19" y2="549.5" stroke="#3f3f3f" stroke-width="1.8"/>
<line x1="237.19" y1="527.69" x2="237.19" y2="527.36" stroke="#3f3f3f" stroke-width="1.8"/>
<line x1="233.69" y1="566.18" x2="240.69" y2="566.18" stroke="#3f3f3f" stroke-width="1.8"/>
<line x1="233.69" y1="527.36" x2="240.69" y2="527.36" stroke="#3f3f3f" stroke-width="1.8"/>
<rect x="230.99" y="527.69" width="12.4" height="21.81" fill="#7870ac" stroke="#3f3f3f" stroke-width="1.8"/>
<line x1="230.99" y1="542.58" x2="243.39" y2="542.58" stroke="#3f3f3f" stroke-width="1.8"/>
<rect x="234.19" y="525.67" width="6" height="6" fill="#ffffff" stroke="#3f3f3f" stroke-width="1.1"/>
<path d="M237.19 418.76L239.09 421.66L237.19 424.56L235.29 421.66Z" fill="#3f3f3f"/>
<path d="M237.19 464.41L239.09 467.31L237.19 470.21L235.29 467.31Z" fill="#3f3f3f"/>
<path d="M237.19 493.3L239.09 496.2L237.19 499.1L235.29 496.2Z" fill="#3f3f3f"/>
<line x1="250.69" y1="570" x2="250.69" y2="566.58" stroke="#3f3f3f" stroke-width="1.8"/>
<line x1="250.69" y1="534.12" x2="250.69" y2="490.58" stroke="#3f3f3f" stroke-width="1.8"/>
<line x1="247.19" y1="570" x2="254.19" y2="570" stroke="#3f3f3f" stroke-width="1.8"/>
<line x1="247.19" y1="490.58" x2="254.19" y2="490.58" stroke="#3f3f3f" stroke-width="1.8"/>
<rect x="244.49" y="534.12" width="12.4" height="32.47" fill="#a09dc5" stroke="#3f3f3f" stroke-width="1.8"/>
<line x1="244.49" y1="551.21" x2="256.89" y2="551.21" stroke="#3f3f3f" stroke-width="1.8"/>
<rect x="247.69" y="543.08" width="6" height="6" fill="#ffffff" stroke="#3f3f3f" stroke-width="1.1"/>
<line x1="264.19" y1="570" x2="264.19" y2="565.28" stroke="#3f3f3f" stroke-width="1.8"/>
<line x1="264.19" y1="542.17" x2="264.19" y2="506.7" stroke="#3f3f3f" stroke-width="1.8"/>
<line x1="260.69" y1="570" x2="267.69" y2="570" stroke="#3f3f3f" stroke-width="1.8"/>
<line x1="260.69" y1="506.7" x2="267.69" y2="506.7" stroke="#3f3f3f" stroke-width="1.8"/>
<rect x="257.99" y="542.17" width="12.4" height="23.11" fill="#bebfda" stroke="#3f3f3f" stroke-width="1.8"/>
<line x1="257.99" y1="561.54" x2="270.39" y2="561.54" stroke="#3f3f3f" stroke-width="1.8"/>
<rect x="261.19" y="547.8" width="6" height="6" fill="#ffffff" stroke="#3f3f3f" stroke-width="1.1"/>
<path d="M264.19 498.59L266.09 501.49L264.19 504.39L262.29 501.49Z" fill="#3f3f3f"/>
<line x1="277.69" y1="577" x2="277.69" y2="577" stroke="#3f3f3f" stroke-width="1.8"/>
<line x1="277.69" y1="566.18" x2="277.69" y2="550.07" stroke="#3f3f3f" stroke-width="1.8"/>
<line x1="274.19" y1="577" x2="281.19" y2="577" stroke="#3f3f3f" stroke-width="1.8"/>
<line x1="274.19" y1="550.07" x2="281.19" y2="550.07" stroke="#3f3f3f" stroke-width="1.8"/>
<rect x="271.49" y="566.18" width="12.4" height="10.82" fill="#dbdbea" stroke="#3f3f3f" stroke-width="1.8"/>
<line x1="271.49" y1="573.75" x2="283.89" y2="573.75" stroke="#3f3f3f" stroke-width="1.8"/>
<rect x="274.69" y="567" width="6" height="6" fill="#ffffff" stroke="#3f3f3f" stroke-width="1.1"/>
<line x1="338.44" y1="573.99" x2="338.44" y2="531.68" stroke="#3f3f3f" stroke-width="1.8"/>
<line x1="338.44" y1="445.26" x2="338.44" y2="390.17" stroke="#3f3f3f" stroke-width="1.8"/>
<line x1="334.94" y1="573.99" x2="341.94" y2="573.99" stroke="#3f3f3f" stroke-width="1.8"/>
<line x1="334.94" y1="390.17" x2="341.94" y2="390.17" stroke="#3f3f3f" stroke-width="1.8"/>
<rect x="332.24" y="445.26" width="12.4" height="86.42" fill="#3a81b4" stroke="#3f3f3f" stroke-width="1.8"/>
<line x1="332.24" y1="500.84" x2="344.64" y2="500.84" stroke="#3f3f3f" stroke-width="1.8"/>
<rect x="335.44" y="475.78" width="6" height="6" fill="#ffffff" stroke="#3f3f3f" stroke-width="1.1"/>
<line x1="351.94" y1="571.3" x2="351.94" y2="528.18" stroke="#3f3f3f" stroke-width="1.8"/>
<line x1="351.94" y1="436.06" x2="351.94" y2="311.08" stroke="#3f3f3f" stroke-width="1.8"/>
<line x1="348.44" y1="571.3" x2="355.44" y2="571.3" stroke="#3f3f3f" stroke-width="1.8"/>
<line x1="348.44" y1="311.08" x2="355.44" y2="311.08" stroke="#3f3f3f" stroke-width="1.8"/>
<rect x="345.74" y="436.06" width="12.4" height="92.11" fill="#72accf" stroke="#3f3f3f" stroke-width="1.8"/>
<line x1="345.74" y1="489.2" x2="358.14" y2="489.2" stroke="#3f3f3f" stroke-width="1.8"/>
<rect x="348.94" y="460.32" width="6" height="6" fill="#ffffff" stroke="#3f3f3f" stroke-width="1.1"/>
<line x1="365.45" y1="577" x2="365.45" y2="554.22" stroke="#3f3f3f" stroke-width="1.8"/>
<line x1="365.45" y1="489.93" x2="365.45" y2="454.94" stroke="#3f3f3f" stroke-width="1.8"/>
<line x1="361.95" y1="577" x2="368.95" y2="577" stroke="#3f3f3f" stroke-width="1.8"/>
<line x1="361.95" y1="454.94" x2="368.95" y2="454.94" stroke="#3f3f3f" stroke-width="1.8"/>
<rect x="359.25" y="489.93" width="12.4" height="64.28" fill="#a2c9dd" stroke="#3f3f3f" stroke-width="1.8"/>
<line x1="359.25" y1="530.62" x2="371.65" y2="530.62" stroke="#3f3f3f" stroke-width="1.8"/>
<rect x="362.45" y="517.37" width="6" height="6" fill="#ffffff" stroke="#3f3f3f" stroke-width="1.1"/>
<path d="M365.45 371.73L367.35 374.63L365.45 377.53L363.55 374.63Z" fill="#3f3f3f"/>
<line x1="378.95" y1="573.99" x2="378.95" y2="566.01" stroke="#3f3f3f" stroke-width="1.8"/>
<line x1="378.95" y1="548.36" x2="378.95" y2="533.79" stroke="#3f3f3f" stroke-width="1.8"/>
<line x1="375.45" y1="573.99" x2="382.45" y2="573.99" stroke="#3f3f3f" stroke-width="1.8"/>
<line x1="375.45" y1="533.79" x2="382.45" y2="533.79" stroke="#3f3f3f" stroke-width="1.8"/>
<rect x="372.75" y="548.36" width="12.4" height="17.66" fill="#d85a1b" stroke="#3f3f3f" stroke-width="1.8"/>
<line x1="372.75" y1="554.22" x2="385.15" y2="554.22" stroke="#3f3f3f" stroke-width="1.8"/>
<rect x="375.95" y="544.79" width="6" height="6" fill="#ffffff" stroke="#3f3f3f" stroke-width="1.1"/>
<path d="M378.95 459.37L380.85 462.27L378.95 465.17L377.05 462.27Z" fill="#3f3f3f"/>
<path d="M378.95 492.73L380.85 495.63L378.95 498.53L377.05 495.63Z" fill="#3f3f3f"/>
<line x1="392.45" y1="573.99" x2="392.45" y2="568.7" stroke="#3f3f3f" stroke-width="1.8"/>
<line x1="392.45" y1="541.77" x2="392.45" y2="514.02" stroke="#3f3f3f" stroke-width="1.8"/>
<line x1="388.95" y1="573.99" x2="395.95" y2="573.99" stroke="#3f3f3f" stroke-width="1.8"/>
<line x1="388.95" y1="514.02" x2="395.95" y2="514.02" stroke="#3f3f3f" stroke-width="1.8"/>
<rect x="386.25" y="541.77" width="12.4" height="26.93" fill="#f08f49" stroke="#3f3f3f" stroke-width="1.8"/>
<line x1="386.25" y1="556.82" x2="398.65" y2="556.82" stroke="#3f3f3f" stroke-width="1.8"/>
<rect x="389.45" y="542.1" width="6" height="6" fill="#ffffff" stroke="#3f3f3f" stroke-width="1.1"/>
<path d="M392.45 400.29L394.35 403.19L392.45 406.09L390.55 403.19Z" fill="#3f3f3f"/>
<line x1="405.95" y1="573.99" x2="405.95" y2="568.7" stroke="#3f3f3f" stroke-width="1.8"/>
<line x1="405.95" y1="560.73" x2="405.95" y2="552.59" stroke="#3f3f3f" stroke-width="1.8"/>
<line x1="402.45" y1="573.99" x2="409.45" y2="573.99" stroke="#3f3f3f" stroke-width="1.8"/>
<line x1="402.45" y1="552.59" x2="409.45" y2="552.59" stroke="#3f3f3f" stroke-width="1.8"/>
<rect x="399.75" y="560.73" width="12.4" height="7.97" fill="#f4af74" stroke="#3f3f3f" stroke-width="1.8"/>
<line x1="399.75" y1="564.79" x2="412.15" y2="564.79" stroke="#3f3f3f" stroke-width="1.8"/>
<rect x="402.95" y="560.9" width="6" height="6" fill="#ffffff" stroke="#3f3f3f" stroke-width="1.1"/>
<line x1="419.45" y1="568.37" x2="419.45" y2="562.27" stroke="#3f3f3f" stroke-width="1.8"/>
<line x1="419.45" y1="544.29" x2="419.45" y2="522.48" stroke="#3f3f3f" stroke-width="1.8"/>
<line x1="415.95" y1="568.37" x2="422.95" y2="568.37" stroke="#3f3f3f" stroke-width="1.8"/>
<line x1="415.95" y1="522.48" x2="422.95" y2="522.48" stroke="#3f3f3f" stroke-width="1.8"/>
<rect x="413.25" y="544.29" width="12.4" height="17.98" fill="#f7d0a8" stroke="#3f3f3f" stroke-width="1.8"/>
<line x1="413.25" y1="550.96" x2="425.65" y2="550.96" stroke="#3f3f3f" stroke-width="1.8"/>
<rect x="416.45" y="547.39" width="6" height="6" fill="#ffffff" stroke="#3f3f3f" stroke-width="1.1"/>
<line x1="432.95" y1="574.23" x2="432.95" y2="563.9" stroke="#3f3f3f" stroke-width="1.8"/>
<line x1="432.95" y1="486.51" x2="432.95" y2="452.26" stroke="#3f3f3f" stroke-width="1.8"/>
<line x1="429.45" y1="574.23" x2="436.45" y2="574.23" stroke="#3f3f3f" stroke-width="1.8"/>
<line x1="429.45" y1="452.26" x2="436.45" y2="452.26" stroke="#3f3f3f" stroke-width="1.8"/>
<rect x="426.75" y="486.51" width="12.4" height="77.38" fill="#389c57" stroke="#3f3f3f" stroke-width="1.8"/>
<line x1="426.75" y1="536.8" x2="439.15" y2="536.8" stroke="#3f3f3f" stroke-width="1.8"/>
<rect x="429.95" y="526.32" width="6" height="6" fill="#ffffff" stroke="#3f3f3f" stroke-width="1.1"/>
<line x1="446.45" y1="576.67" x2="446.45" y2="569.27" stroke="#3f3f3f" stroke-width="1.8"/>
<line x1="446.45" y1="563.49" x2="446.45" y2="557.47" stroke="#3f3f3f" stroke-width="1.8"/>
<line x1="442.95" y1="576.67" x2="449.95" y2="576.67" stroke="#3f3f3f" stroke-width="1.8"/>
<line x1="442.95" y1="557.47" x2="449.95" y2="557.47" stroke="#3f3f3f" stroke-width="1.8"/>
<rect x="440.25" y="563.49" width="12.4" height="5.78" fill="#a6d6b2" stroke="#3f3f3f" stroke-width="1.8"/>
<line x1="440.25" y1="566.42" x2="452.65" y2="566.42" stroke="#3f3f3f" stroke-width="1.8"/>
<rect x="443.45" y="563.1" width="6" height="6" fill="#ffffff" stroke="#3f3f3f" stroke-width="1.1"/>
<line x1="459.95" y1="566.1" x2="459.95" y2="557.88" stroke="#3f3f3f" stroke-width="1.8"/>
<line x1="459.95" y1="538.67" x2="459.95" y2="516.87" stroke="#3f3f3f" stroke-width="1.8"/>
<line x1="456.45" y1="566.1" x2="463.45" y2="566.1" stroke="#3f3f3f" stroke-width="1.8"/>
<line x1="456.45" y1="516.87" x2="463.45" y2="516.87" stroke="#3f3f3f" stroke-width="1.8"/>
<rect x="453.75" y="538.67" width="12.4" height="19.2" fill="#c9e6c3" stroke="#3f3f3f" stroke-width="1.8"/>
<line x1="453.75" y1="551.12" x2="466.15" y2="551.12" stroke="#3f3f3f" stroke-width="1.8"/>
<rect x="456.95" y="544.22" width="6" height="6" fill="#ffffff" stroke="#3f3f3f" stroke-width="1.1"/>
<line x1="473.45" y1="560.73" x2="473.45" y2="555.76" stroke="#3f3f3f" stroke-width="1.8"/>
<line x1="473.45" y1="530.13" x2="473.45" y2="520.12" stroke="#3f3f3f" stroke-width="1.8"/>
<line x1="469.95" y1="560.73" x2="476.95" y2="560.73" stroke="#3f3f3f" stroke-width="1.8"/>
<line x1="469.95" y1="520.12" x2="476.95" y2="520.12" stroke="#3f3f3f" stroke-width="1.8"/>
<rect x="467.25" y="530.13" width="12.4" height="25.63" fill="#7870ac" stroke="#3f3f3f" stroke-width="1.8"/>
<line x1="467.25" y1="545.67" x2="479.65" y2="545.67" stroke="#3f3f3f" stroke-width="1.8"/>
<rect x="470.45" y="533.07" width="6" height="6" fill="#ffffff" stroke="#3f3f3f" stroke-width="1.1"/>
<path d="M473.45 460.51L475.35 463.41L473.45 466.31L471.55 463.41Z" fill="#3f3f3f"/>
<path d="M473.45 475.48L475.35 478.38L473.45 481.28L471.55 478.38Z" fill="#3f3f3f"/>
<line x1="486.95" y1="571.39" x2="486.95" y2="560.73" stroke="#3f3f3f" stroke-width="1.8"/>
<line x1="486.95" y1="541.52" x2="486.95" y2="530.78" stroke="#3f3f3f" stroke-width="1.8"/>
<line x1="483.45" y1="571.39" x2="490.45" y2="571.39" stroke="#3f3f3f" stroke-width="1.8"/>
<line x1="483.45" y1="530.78" x2="490.45" y2="530.78" stroke="#3f3f3f" stroke-width="1.8"/>
<rect x="480.75" y="541.52" width="12.4" height="19.2" fill="#a09dc5" stroke="#3f3f3f" stroke-width="1.8"/>
<line x1="480.75" y1="547.71" x2="493.15" y2="547.71" stroke="#3f3f3f" stroke-width="1.8"/>
<rect x="483.95" y="543.81" width="6" height="6" fill="#ffffff" stroke="#3f3f3f" stroke-width="1.1"/>
<path d="M486.95 479.3L488.85 482.2L486.95 485.1L485.05 482.2Z" fill="#3f3f3f"/>
<line x1="500.46" y1="571.39" x2="500.46" y2="567.07" stroke="#3f3f3f" stroke-width="1.8"/>
<line x1="500.46" y1="551.12" x2="500.46" y2="546.81" stroke="#3f3f3f" stroke-width="1.8"/>
<line x1="496.96" y1="571.39" x2="503.96" y2="571.39" stroke="#3f3f3f" stroke-width="1.8"/>
<line x1="496.96" y1="546.81" x2="503.96" y2="546.81" stroke="#3f3f3f" stroke-width="1.8"/>
<rect x="494.26" y="551.12" width="12.4" height="15.95" fill="#bebfda" stroke="#3f3f3f" stroke-width="1.8"/>
<line x1="494.26" y1="559.1" x2="506.66" y2="559.1" stroke="#3f3f3f" stroke-width="1.8"/>
<rect x="497.46" y="551.3" width="6" height="6" fill="#ffffff" stroke="#3f3f3f" stroke-width="1.1"/>
<path d="M500.46 492.97L502.36 495.87L500.46 498.77L498.56 495.87Z" fill="#3f3f3f"/>
<path d="M500.46 517.22L502.36 520.12L500.46 523.02L498.56 520.12Z" fill="#3f3f3f"/>
<line x1="513.96" y1="577" x2="513.96" y2="575.7" stroke="#3f3f3f" stroke-width="1.8"/>
<line x1="513.96" y1="566.1" x2="513.96" y2="551.12" stroke="#3f3f3f" stroke-width="1.8"/>
<line x1="510.46" y1="577" x2="517.46" y2="577" stroke="#3f3f3f" stroke-width="1.8"/>
<line x1="510.46" y1="551.12" x2="517.46" y2="551.12" stroke="#3f3f3f" stroke-width="1.8"/>
<rect x="507.76" y="566.1" width="12.4" height="9.6" fill="#dbdbea" stroke="#3f3f3f" stroke-width="1.8"/>
<line x1="507.76" y1="573.5" x2="520.16" y2="573.5" stroke="#3f3f3f" stroke-width="1.8"/>
<rect x="510.96" y="566.27" width="6" height="6" fill="#ffffff" stroke="#3f3f3f" stroke-width="1.1"/>
<path d="M513.96 548.06L515.86 550.96L513.96 553.86L512.06 550.96Z" fill="#3f3f3f"/>
<line x1="574.71" y1="570.16" x2="574.71" y2="546.97" stroke="#3f3f3f" stroke-width="1.8"/>
<line x1="574.71" y1="520.69" x2="574.71" y2="503.11" stroke="#3f3f3f" stroke-width="1.8"/>
<line x1="571.21" y1="570.16" x2="578.21" y2="570.16" stroke="#3f3f3f" stroke-width="1.8"/>
<line x1="571.21" y1="503.11" x2="578.21" y2="503.11" stroke="#3f3f3f" stroke-width="1.8"/>
<rect x="568.51" y="520.69" width="12.4" height="26.28" fill="#3a81b4" stroke="#3f3f3f" stroke-width="1.8"/>
<line x1="568.51" y1="535.42" x2="580.91" y2="535.42" stroke="#3f3f3f" stroke-width="1.8"/>
<rect x="571.71" y="527.54" width="6" height="6" fill="#ffffff" stroke="#3f3f3f" stroke-width="1.1"/>
<path d="M574.71 460.67L576.61 463.57L574.71 466.47L572.81 463.57Z" fill="#3f3f3f"/>
<line x1="588.21" y1="573.5" x2="588.21" y2="539.49" stroke="#3f3f3f" stroke-width="1.8"/>
<line x1="588.21" y1="511.41" x2="588.21" y2="474.31" stroke="#3f3f3f" stroke-width="1.8"/>
<line x1="584.71" y1="573.5" x2="591.71" y2="573.5" stroke="#3f3f3f" stroke-width="1.8"/>
<line x1="584.71" y1="474.31" x2="591.71" y2="474.31" stroke="#3f3f3f" stroke-width="1.8"/>
<rect x="582.01" y="511.41" width="12.4" height="28.07" fill="#72accf" stroke="#3f3f3f" stroke-width="1.8"/>
<line x1="582.01" y1="528.67" x2="594.41" y2="528.67" stroke="#3f3f3f" stroke-width="1.8"/>
<rect x="585.21" y="518.59" width="6" height="6" fill="#ffffff" stroke="#3f3f3f" stroke-width="1.1"/>
<path d="M588.21 458.06L590.11 460.96L588.21 463.86L586.31 460.96Z" fill="#3f3f3f"/>
<path d="M588.21 463.68L590.11 466.58L588.21 469.48L586.31 466.58Z" fill="#3f3f3f"/>
<line x1="601.71" y1="573.5" x2="601.71" y2="559.02" stroke="#3f3f3f" stroke-width="1.8"/>
<line x1="601.71" y1="539.49" x2="601.71" y2="525.41" stroke="#3f3f3f" stroke-width="1.8"/>
<line x1="598.21" y1="573.5" x2="605.21" y2="573.5" stroke="#3f3f3f" stroke-width="1.8"/>
<line x1="598.21" y1="525.41" x2="605.21" y2="525.41" stroke="#3f3f3f" stroke-width="1.8"/>
<rect x="595.51" y="539.49" width="12.4" height="19.53" fill="#a2c9dd" stroke="#3f3f3f" stroke-width="1.8"/>
<line x1="595.51" y1="555.03" x2="607.91" y2="555.03" stroke="#3f3f3f" stroke-width="1.8"/>
<rect x="598.71" y="544.46" width="6" height="6" fill="#ffffff" stroke="#3f3f3f" stroke-width="1.1"/>
<path d="M601.71 490.53L603.61 493.43L601.71 496.33L599.81 493.43Z" fill="#3f3f3f"/>
<line x1="615.21" y1="573.01" x2="615.21" y2="564.79" stroke="#3f3f3f" stroke-width="1.8"/>
<line x1="615.21" y1="550.88" x2="615.21" y2="533.47" stroke="#3f3f3f" stroke-width="1.8"/>
<line x1="611.71" y1="573.01" x2="618.71" y2="573.01" stroke="#3f3f3f" stroke-width="1.8"/>
<line x1="611.71" y1="533.47" x2="618.71" y2="533.47" stroke="#3f3f3f" stroke-width="1.8"/>
<rect x="609.01" y="550.88" width="12.4" height="13.91" fill="#d85a1b" stroke="#3f3f3f" stroke-width="1.8"/>
<line x1="609.01" y1="560.97" x2="621.41" y2="560.97" stroke="#3f3f3f" stroke-width="1.8"/>
<rect x="612.21" y="553.01" width="6" height="6" fill="#ffffff" stroke="#3f3f3f" stroke-width="1.1"/>
<path d="M615.21 523.98L617.11 526.88L615.21 529.78L613.31 526.88Z" fill="#3f3f3f"/>
<line x1="628.71" y1="573.01" x2="628.71" y2="566.58" stroke="#3f3f3f" stroke-width="1.8"/>
<line x1="628.71" y1="552.43" x2="628.71" y2="535.91" stroke="#3f3f3f" stroke-width="1.8"/>
<line x1="625.21" y1="573.01" x2="632.21" y2="573.01" stroke="#3f3f3f" stroke-width="1.8"/>
<line x1="625.21" y1="535.91" x2="632.21" y2="535.91" stroke="#3f3f3f" stroke-width="1.8"/>
<rect x="622.51" y="552.43" width="12.4" height="14.16" fill="#f08f49" stroke="#3f3f3f" stroke-width="1.8"/>
<line x1="622.51" y1="563.98" x2="634.91" y2="563.98" stroke="#3f3f3f" stroke-width="1.8"/>
<rect x="625.71" y="555.37" width="6" height="6" fill="#ffffff" stroke="#3f3f3f" stroke-width="1.1"/>
<path d="M628.71 523.98L630.61 526.88L628.71 529.78L626.81 526.88Z" fill="#3f3f3f"/>
<line x1="642.22" y1="570.16" x2="642.22" y2="566.99" stroke="#3f3f3f" stroke-width="1.8"/>
<line x1="642.22" y1="560.24" x2="642.22" y2="550.88" stroke="#3f3f3f" stroke-width="1.8"/>
<line x1="638.72" y1="570.16" x2="645.72" y2="570.16" stroke="#3f3f3f" stroke-width="1.8"/>
<line x1="638.72" y1="550.88" x2="645.72" y2="550.88" stroke="#3f3f3f" stroke-width="1.8"/>
<rect x="636.02" y="560.24" width="12.4" height="6.75" fill="#f4af74" stroke="#3f3f3f" stroke-width="1.8"/>
<line x1="636.02" y1="563.98" x2="648.42" y2="563.98" stroke="#3f3f3f" stroke-width="1.8"/>
<rect x="639.22" y="560.33" width="6" height="6" fill="#ffffff" stroke="#3f3f3f" stroke-width="1.1"/>
<line x1="655.72" y1="570.16" x2="655.72" y2="558.04" stroke="#3f3f3f" stroke-width="1.8"/>
<line x1="655.72" y1="548.52" x2="655.72" y2="538.51" stroke="#3f3f3f" stroke-width="1.8"/>
<line x1="652.22" y1="570.16" x2="659.22" y2="570.16" stroke="#3f3f3f" stroke-width="1.8"/>
<line x1="652.22" y1="538.51" x2="659.22" y2="538.51" stroke="#3f3f3f" stroke-width="1.8"/>
<rect x="649.52" y="548.52" width="12.4" height="9.52" fill="#f7d0a8" stroke="#3f3f3f" stroke-width="1.8"/>
<line x1="649.52" y1="553.4" x2="661.92" y2="553.4" stroke="#3f3f3f" stroke-width="1.8"/>
<rect x="652.72" y="550.48" width="6" height="6" fill="#ffffff" stroke="#3f3f3f" stroke-width="1.1"/>
<line x1="669.22" y1="570.82" x2="669.22" y2="564.06" stroke="#3f3f3f" stroke-width="1.8"/>
<line x1="669.22" y1="538.92" x2="669.22" y2="518.49" stroke="#3f3f3f" stroke-width="1.8"/>
<line x1="665.72" y1="570.82" x2="672.72" y2="570.82" stroke="#3f3f3f" stroke-width="1.8"/>
<line x1="665.72" y1="518.49" x2="672.72" y2="518.49" stroke="#3f3f3f" stroke-width="1.8"/>
<rect x="663.02" y="538.92" width="12.4" height="25.14" fill="#389c57" stroke="#3f3f3f" stroke-width="1.8"/>
<line x1="663.02" y1="554.62" x2="675.42" y2="554.62" stroke="#3f3f3f" stroke-width="1.8"/>
<rect x="666.22" y="546.5" width="6" height="6" fill="#ffffff" stroke="#3f3f3f" stroke-width="1.1"/>
<line x1="682.72" y1="573.5" x2="682.72" y2="569.03" stroke="#3f3f3f" stroke-width="1.8"/>
<line x1="682.72" y1="564.06" x2="682.72" y2="558.04" stroke="#3f3f3f" stroke-width="1.8"/>
<line x1="679.22" y1="573.5" x2="686.22" y2="573.5" stroke="#3f3f3f" stroke-width="1.8"/>
<line x1="679.22" y1="558.04" x2="686.22" y2="558.04" stroke="#3f3f3f" stroke-width="1.8"/>
<rect x="676.52" y="564.06" width="12.4" height="4.96" fill="#a6d6b2" stroke="#3f3f3f" stroke-width="1.8"/>
<line x1="676.52" y1="566.42" x2="688.92" y2="566.42" stroke="#3f3f3f" stroke-width="1.8"/>
<rect x="679.72" y="563.58" width="6" height="6" fill="#ffffff" stroke="#3f3f3f" stroke-width="1.1"/>
<line x1="696.22" y1="566.34" x2="696.22" y2="561.13" stroke="#3f3f3f" stroke-width="1.8"/>
<line x1="696.22" y1="550.96" x2="696.22" y2="537.37" stroke="#3f3f3f" stroke-width="1.8"/>
<line x1="692.72" y1="566.34" x2="699.72" y2="566.34" stroke="#3f3f3f" stroke-width="1.8"/>
<line x1="692.72" y1="537.37" x2="699.72" y2="537.37" stroke="#3f3f3f" stroke-width="1.8"/>
<rect x="690.02" y="550.96" width="12.4" height="10.17" fill="#c9e6c3" stroke="#3f3f3f" stroke-width="1.8"/>
<line x1="690.02" y1="559.51" x2="702.42" y2="559.51" stroke="#3f3f3f" stroke-width="1.8"/>
<rect x="693.22" y="552.03" width="6" height="6" fill="#ffffff" stroke="#3f3f3f" stroke-width="1.1"/>
<line x1="709.72" y1="564.79" x2="709.72" y2="557.63" stroke="#3f3f3f" stroke-width="1.8"/>
<line x1="709.72" y1="545.02" x2="709.72" y2="525.41" stroke="#3f3f3f" stroke-width="1.8"/>
<line x1="706.22" y1="564.79" x2="713.22" y2="564.79" stroke="#3f3f3f" stroke-width="1.8"/>
<line x1="706.22" y1="525.41" x2="713.22" y2="525.41" stroke="#3f3f3f" stroke-width="1.8"/>
<rect x="703.52" y="545.02" width="12.4" height="12.61" fill="#7870ac" stroke="#3f3f3f" stroke-width="1.8"/>
<line x1="703.52" y1="555.84" x2="715.92" y2="555.84" stroke="#3f3f3f" stroke-width="1.8"/>
<rect x="706.72" y="547.96" width="6" height="6" fill="#ffffff" stroke="#3f3f3f" stroke-width="1.1"/>
<line x1="723.22" y1="570.49" x2="723.22" y2="561.78" stroke="#3f3f3f" stroke-width="1.8"/>
<line x1="723.22" y1="549.74" x2="723.22" y2="546" stroke="#3f3f3f" stroke-width="1.8"/>
<line x1="719.72" y1="570.49" x2="726.72" y2="570.49" stroke="#3f3f3f" stroke-width="1.8"/>
<line x1="719.72" y1="546" x2="726.72" y2="546" stroke="#3f3f3f" stroke-width="1.8"/>
<rect x="717.02" y="549.74" width="12.4" height="12.04" fill="#a09dc5" stroke="#3f3f3f" stroke-width="1.8"/>
<line x1="717.02" y1="555.03" x2="729.42" y2="555.03" stroke="#3f3f3f" stroke-width="1.8"/>
<rect x="720.22" y="552.03" width="6" height="6" fill="#ffffff" stroke="#3f3f3f" stroke-width="1.1"/>
<path d="M723.22 506.32L725.12 509.22L723.22 512.12L721.32 509.22Z" fill="#3f3f3f"/>
<line x1="736.72" y1="569.27" x2="736.72" y2="566.34" stroke="#3f3f3f" stroke-width="1.8"/>
<line x1="736.72" y1="559.51" x2="736.72" y2="559.1" stroke="#3f3f3f" stroke-width="1.8"/>
<line x1="733.22" y1="569.27" x2="740.22" y2="569.27" stroke="#3f3f3f" stroke-width="1.8"/>
<line x1="733.22" y1="559.1" x2="740.22" y2="559.1" stroke="#3f3f3f" stroke-width="1.8"/>
<rect x="730.52" y="559.51" width="12.4" height="6.84" fill="#bebfda" stroke="#3f3f3f" stroke-width="1.8"/>
<line x1="730.52" y1="563.66" x2="742.92" y2="563.66" stroke="#3f3f3f" stroke-width="1.8"/>
<rect x="733.72" y="557.32" width="6" height="6" fill="#ffffff" stroke="#3f3f3f" stroke-width="1.1"/>
<path d="M736.72 523.89L738.62 526.79L736.72 529.69L734.82 526.79Z" fill="#3f3f3f"/>
<path d="M736.72 541.23L738.62 544.13L736.72 547.03L734.82 544.13Z" fill="#3f3f3f"/>
<line x1="750.22" y1="574.56" x2="750.22" y2="571.06" stroke="#3f3f3f" stroke-width="1.8"/>
<line x1="750.22" y1="564.06" x2="750.22" y2="563.17" stroke="#3f3f3f" stroke-width="1.8"/>
<line x1="746.72" y1="574.56" x2="753.72" y2="574.56" stroke="#3f3f3f" stroke-width="1.8"/>
<line x1="746.72" y1="563.17" x2="753.72" y2="563.17" stroke="#3f3f3f" stroke-width="1.8"/>
<rect x="744.02" y="564.06" width="12.4" height="7" fill="#dbdbea" stroke="#3f3f3f" stroke-width="1.8"/>
<line x1="744.02" y1="568.86" x2="756.42" y2="568.86" stroke="#3f3f3f" stroke-width="1.8"/>
<rect x="747.22" y="564.48" width="6" height="6" fill="#ffffff" stroke="#3f3f3f" stroke-width="1.1"/>
<path d="M750.22 549.12L752.12 552.02L750.22 554.92L748.32 552.02Z" fill="#3f3f3f"/>
</g>
<text x="189.93" y="606.6" font-size="16" text-anchor="middle" font-weight="normal" fill="#262626" font-family="'DejaVu Sans', 'Liberation Sans', sans-serif">0.5%</text>
<text x="426.2" y="606.6" font-size="16" text-anchor="middle" font-weight="normal" fill="#262626" font-family="'DejaVu Sans', 'Liberation Sans', sans-serif">1.0%</text>
<text x="662.47" y="606.6" font-size="16" text-anchor="middle" font-weight="normal" fill="#262626" font-family="'DejaVu Sans', 'Liberation Sans', sans-serif">5.0%</text>
<text x="0" y="0" font-size="16.6" text-anchor="middle" fill="#262626" font-family="'DejaVu Sans', 'Liberation Sans', sans-serif" transform="translate(30.2 434.2) rotate(-90)">Enrichment Factor</text>
<text x="1.5" y="306" font-size="19.2" text-anchor="start" font-weight="bold" fill="#000" font-family="'DejaVu Sans', sans-serif">C</text>
<rect x="107.3" y="619.3" width="20.6" height="6.6" fill="#3a81b4" stroke="#3f3f3f" stroke-width="1.3"/>
<text x="136.1" y="626.9" font-size="10.9" text-anchor="start" font-weight="normal" fill="#262626" font-family="'DejaVu Sans', 'Liberation Sans', sans-serif">Boltz-2 (ipTM)</text>
<rect x="107.3" y="635" width="20.6" height="6.6" fill="#72accf" stroke="#3f3f3f" stroke-width="1.3"/>
<text x="136.1" y="642.6" font-size="10.9" text-anchor="start" font-weight="normal" fill="#262626" font-family="'DejaVu Sans', 'Liberation Sans', sans-serif">Boltz-2 (min-iPAE)</text>
<rect x="107.3" y="650.7" width="20.6" height="6.6" fill="#a2c9dd" stroke="#3f3f3f" stroke-width="1.3"/>
<text x="136.1" y="658.3" font-size="10.9" text-anchor="start" font-weight="normal" fill="#262626" font-family="'DejaVu Sans', 'Liberation Sans', sans-serif">Protenix (ipTM)</text>
<rect x="107.3" y="666.4" width="20.6" height="6.6" fill="#d85a1b" stroke="#3f3f3f" stroke-width="1.3"/>
<text x="136.1" y="674" font-size="10.9" text-anchor="start" font-weight="normal" fill="#262626" font-family="'DejaVu Sans', 'Liberation Sans', sans-serif">Protenix (Glide_SP)</text>
<rect x="261.3" y="619.3" width="20.6" height="6.6" fill="#f08f49" stroke="#3f3f3f" stroke-width="1.3"/>
<text x="290.1" y="626.9" font-size="10.9" text-anchor="start" font-weight="normal" fill="#262626" font-family="'DejaVu Sans', 'Liberation Sans', sans-serif">Protenix (Glide_XP)</text>
<rect x="261.3" y="635" width="20.6" height="6.6" fill="#f4af74" stroke="#3f3f3f" stroke-width="1.3"/>
<text x="290.1" y="642.6" font-size="10.9" text-anchor="start" font-weight="normal" fill="#262626" font-family="'DejaVu Sans', 'Liberation Sans', sans-serif">Protenix (AD4)</text>
<rect x="261.3" y="650.7" width="20.6" height="6.6" fill="#f7d0a8" stroke="#3f3f3f" stroke-width="1.3"/>
<text x="290.1" y="658.3" font-size="10.9" text-anchor="start" font-weight="normal" fill="#262626" font-family="'DejaVu Sans', 'Liberation Sans', sans-serif">Protenix (Vina)</text>
<rect x="261.3" y="666.4" width="20.6" height="6.6" fill="#389c57" stroke="#3f3f3f" stroke-width="1.3"/>
<text x="290.1" y="674" font-size="10.9" text-anchor="start" font-weight="normal" fill="#262626" font-family="'DejaVu Sans', 'Liberation Sans', sans-serif">Protenix (CNNscore)</text>
<rect x="420.8" y="619.3" width="20.6" height="6.6" fill="#a6d6b2" stroke="#3f3f3f" stroke-width="1.3"/>
<text x="449.6" y="626.9" font-size="10.9" text-anchor="start" font-weight="normal" fill="#262626" font-family="'DejaVu Sans', 'Liberation Sans', sans-serif">Protenix (CNNaffinity)</text>
<rect x="420.8" y="635" width="20.6" height="6.6" fill="#c9e6c3" stroke="#3f3f3f" stroke-width="1.3"/>
<text x="449.6" y="642.6" font-size="10.9" text-anchor="start" font-weight="normal" fill="#262626" font-family="'DejaVu Sans', 'Liberation Sans', sans-serif">Protenix (RTMScore)</text>
<rect x="420.8" y="650.7" width="20.6" height="6.6" fill="#7870ac" stroke="#3f3f3f" stroke-width="1.3"/>
<text x="449.6" y="658.3" font-size="10.9" text-anchor="start" font-weight="normal" fill="#262626" font-family="'DejaVu Sans', 'Liberation Sans', sans-serif">Glide_SP</text>
<rect x="588.8" y="619.3" width="20.6" height="6.6" fill="#a09dc5" stroke="#3f3f3f" stroke-width="1.3"/>
<text x="617.6" y="626.9" font-size="10.9" text-anchor="start" font-weight="normal" fill="#262626" font-family="'DejaVu Sans', 'Liberation Sans', sans-serif">Gnina (Vina)</text>
<rect x="588.8" y="635" width="20.6" height="6.6" fill="#bebfda" stroke="#3f3f3f" stroke-width="1.3"/>
<text x="617.6" y="642.6" font-size="10.9" text-anchor="start" font-weight="normal" fill="#262626" font-family="'DejaVu Sans', 'Liberation Sans', sans-serif">Gnina (CNNscore)</text>
<rect x="588.8" y="650.7" width="20.6" height="6.6" fill="#dbdbea" stroke="#3f3f3f" stroke-width="1.3"/>
<text x="617.6" y="658.3" font-size="10.9" text-anchor="start" font-weight="normal" fill="#262626" font-family="'DejaVu Sans', 'Liberation Sans', sans-serif">Gnina (CNNaffinity)</text>
<line x1="80.8" y1="693.01" x2="377.92" y2="693.01" stroke="#cccccc" stroke-width="1.3"/>
<text x="67.2" y="698.01" font-size="13.5" text-anchor="end" font-weight="normal" fill="#262626" font-family="'DejaVu Sans', 'Liberation Sans', sans-serif">0.3</text>
<line x1="80.8" y1="742.44" x2="377.92" y2="742.44" stroke="#cccccc" stroke-width="1.3"/>
<text x="67.2" y="747.44" font-size="13.5" text-anchor="end" font-weight="normal" fill="#262626" font-family="'DejaVu Sans', 'Liberation Sans', sans-serif">0.2</text>
<line x1="80.8" y1="791.87" x2="377.92" y2="791.87" stroke="#cccccc" stroke-width="1.3"/>
<text x="67.2" y="796.87" font-size="13.5" text-anchor="end" font-weight="normal" fill="#262626" font-family="'DejaVu Sans', 'Liberation Sans', sans-serif">0.1</text>
<line x1="80.8" y1="841.3" x2="377.92" y2="841.3" stroke="#cccccc" stroke-width="1.3"/>
<text x="67.2" y="846.3" font-size="13.5" text-anchor="end" font-weight="normal" fill="#262626" font-family="'DejaVu Sans', 'Liberation Sans', sans-serif">0.0</text>
<line x1="80.8" y1="890.73" x2="377.92" y2="890.73" stroke="#cccccc" stroke-width="1.3"/>
<text x="67.2" y="895.73" font-size="13.5" text-anchor="end" font-weight="normal" fill="#262626" font-family="'DejaVu Sans', 'Liberation Sans', sans-serif">−0.1</text>
<rect x="80.8" y="693" width="297.12" height="197.7" fill="none" stroke="#cccccc" stroke-width="1.5"/>
<text x="99.37" y="917.9" font-size="16" text-anchor="middle" font-weight="normal" fill="#262626" font-family="'DejaVu Sans', 'Liberation Sans', sans-serif">0.3</text>
<text x="136.51" y="917.9" font-size="16" text-anchor="middle" font-weight="normal" fill="#262626" font-family="'DejaVu Sans', 'Liberation Sans', sans-serif">0.4</text>
<text x="173.65" y="917.9" font-size="16" text-anchor="middle" font-weight="normal" fill="#262626" font-family="'DejaVu Sans', 'Liberation Sans', sans-serif">0.5</text>
<text x="210.79" y="917.9" font-size="16" text-anchor="middle" font-weight="normal" fill="#262626" font-family="'DejaVu Sans', 'Liberation Sans', sans-serif">0.6</text>
<text x="247.93" y="917.9" font-size="16" text-anchor="middle" font-weight="normal" fill="#262626" font-family="'DejaVu Sans', 'Liberation Sans', sans-serif">0.7</text>
<text x="285.07" y="917.9" font-size="16" text-anchor="middle" font-weight="normal" fill="#262626" font-family="'DejaVu Sans', 'Liberation Sans', sans-serif">0.8</text>
<text x="322.21" y="917.9" font-size="16" text-anchor="middle" font-weight="normal" fill="#262626" font-family="'DejaVu Sans', 'Liberation Sans', sans-serif">0.9</text>
<text x="359.35" y="917.9" font-size="16" text-anchor="middle" font-weight="normal" fill="#262626" font-family="'DejaVu Sans', 'Liberation Sans', sans-serif">1.0</text>
<text x="229.36" y="940" font-size="15.2" text-anchor="middle" font-weight="normal" fill="#262626" font-family="'DejaVu Sans', 'Liberation Sans', sans-serif">Molecular Similarity</text>
<text x="0" y="0" font-size="15.4" text-anchor="middle" fill="#262626" font-family="'DejaVu Sans', 'Liberation Sans', sans-serif" transform="translate(27.5 792.9) rotate(-90)">BEDROC</text>
<text x="1.6" y="715" font-size="19.2" text-anchor="start" font-weight="bold" fill="#000" font-family="'DejaVu Sans', sans-serif">D</text>
<polyline points="94.37,760.98 131.51,740.66 168.65,733.05 205.79,728.5 242.93,727.02 280.07,726.03 317.21,725.49 354.35,724.5" fill="none" stroke="#4c72b0" stroke-width="2.3" stroke-linejoin="round"/>
<circle cx="94.37" cy="760.98" r="3.9" fill="#4c72b0"/>
<circle cx="131.51" cy="740.66" r="3.9" fill="#4c72b0"/>
<circle cx="168.65" cy="733.05" r="3.9" fill="#4c72b0"/>
<circle cx="205.79" cy="728.5" r="3.9" fill="#4c72b0"/>
<circle cx="242.93" cy="727.02" r="3.9" fill="#4c72b0"/>
<circle cx="280.07" cy="726.03" r="3.9" fill="#4c72b0"/>
<circle cx="317.21" cy="725.49" r="3.9" fill="#4c72b0"/>
<circle cx="354.35" cy="724.5" r="3.9" fill="#4c72b0"/>
<polyline points="95.37,750.84 132.51,719.75 169.65,711.6 206.79,707 243.93,706.01 281.07,705.02 318.21,704.53 355.35,704.03" fill="none" stroke="#dd8452" stroke-width="2.3" stroke-linejoin="round"/>
<circle cx="95.37" cy="750.84" r="3.9" fill="#dd8452"/>
<circle cx="132.51" cy="719.75" r="3.9" fill="#dd8452"/>
<circle cx="169.65" cy="711.6" r="3.9" fill="#dd8452"/>
<circle cx="206.79" cy="707" r="3.9" fill="#dd8452"/>
<circle cx="243.93" cy="706.01" r="3.9" fill="#dd8452"/>
<circle cx="281.07" cy="705.02" r="3.9" fill="#dd8452"/>
<circle cx="318.21" cy="704.53" r="3.9" fill="#dd8452"/>
<circle cx="355.35" cy="704.03" r="3.9" fill="#dd8452"/>
<polyline points="96.37,789.7 133.51,783.02 170.65,777.73 207.79,776.3 244.93,776 282.07,775.11 319.21,775.21 356.35,774.32" fill="none" stroke="#55a868" stroke-width="2.3" stroke-linejoin="round"/>
<circle cx="96.37" cy="789.7" r="3.9" fill="#55a868"/>
<circle cx="133.51" cy="783.02" r="3.9" fill="#55a868"/>
<circle cx="170.65" cy="777.73" r="3.9" fill="#55a868"/>
<circle cx="207.79" cy="776.3" r="3.9" fill="#55a868"/>
<circle cx="244.93" cy="776" r="3.9" fill="#55a868"/>
<circle cx="282.07" cy="775.11" r="3.9" fill="#55a868"/>
<circle cx="319.21" cy="775.21" r="3.9" fill="#55a868"/>
<circle cx="356.35" cy="774.32" r="3.9" fill="#55a868"/>
<polyline points="97.37,821.53 134.51,808.68 171.65,803.73 208.79,802.25 245.93,801.76 283.07,801.26 320.21,801.26 357.35,801.01" fill="none" stroke="#c44e52" stroke-width="2.3" stroke-linejoin="round"/>
<circle cx="97.37" cy="821.53" r="3.9" fill="#c44e52"/>
<circle cx="134.51" cy="808.68" r="3.9" fill="#c44e52"/>
<circle cx="171.65" cy="803.73" r="3.9" fill="#c44e52"/>
<circle cx="208.79" cy="802.25" r="3.9" fill="#c44e52"/>
<circle cx="245.93" cy="801.76" r="3.9" fill="#c44e52"/>
<circle cx="283.07" cy="801.26" r="3.9" fill="#c44e52"/>
<circle cx="320.21" cy="801.26" r="3.9" fill="#c44e52"/>
<circle cx="357.35" cy="801.01" r="3.9" fill="#c44e52"/>
<polyline points="98.37,820.54 135.51,809.17 172.65,804.23 209.79,802.74 246.93,802.25 284.07,802.25 321.21,802 358.35,801.76" fill="none" stroke="#8172b3" stroke-width="2.3" stroke-linejoin="round"/>
<circle cx="98.37" cy="820.54" r="3.9" fill="#8172b3"/>
<circle cx="135.51" cy="809.17" r="3.9" fill="#8172b3"/>
<circle cx="172.65" cy="804.23" r="3.9" fill="#8172b3"/>
<circle cx="209.79" cy="802.74" r="3.9" fill="#8172b3"/>
<circle cx="246.93" cy="802.25" r="3.9" fill="#8172b3"/>
<circle cx="284.07" cy="802.25" r="3.9" fill="#8172b3"/>
<circle cx="321.21" cy="802" r="3.9" fill="#8172b3"/>
<circle cx="358.35" cy="801.76" r="3.9" fill="#8172b3"/>
<polyline points="99.37,820.05 136.51,809.66 173.65,804.72 210.79,803.24 247.93,802.74 285.07,802.5 322.21,802.5 359.35,802.5" fill="none" stroke="#937860" stroke-width="2.3" stroke-linejoin="round"/>
<circle cx="99.37" cy="820.05" r="3.9" fill="#937860"/>
<circle cx="136.51" cy="809.66" r="3.9" fill="#937860"/>
<circle cx="173.65" cy="804.72" r="3.9" fill="#937860"/>
<circle cx="210.79" cy="803.24" r="3.9" fill="#937860"/>
<circle cx="247.93" cy="802.74" r="3.9" fill="#937860"/>
<circle cx="285.07" cy="802.5" r="3.9" fill="#937860"/>
<circle cx="322.21" cy="802.5" r="3.9" fill="#937860"/>
<circle cx="359.35" cy="802.5" r="3.9" fill="#937860"/>
<polyline points="100.37,804.13 137.51,787.82 174.65,783.42 211.79,783.02 248.93,783.32 286.07,782.73 323.21,782.73 360.35,782.73" fill="none" stroke="#da8bc3" stroke-width="2.3" stroke-linejoin="round"/>
<circle cx="100.37" cy="804.13" r="3.9" fill="#da8bc3"/>
<circle cx="137.51" cy="787.82" r="3.9" fill="#da8bc3"/>
<circle cx="174.65" cy="783.42" r="3.9" fill="#da8bc3"/>
<circle cx="211.79" cy="783.02" r="3.9" fill="#da8bc3"/>
<circle cx="248.93" cy="783.32" r="3.9" fill="#da8bc3"/>
<circle cx="286.07" cy="782.73" r="3.9" fill="#da8bc3"/>
<circle cx="323.21" cy="782.73" r="3.9" fill="#da8bc3"/>
<circle cx="360.35" cy="782.73" r="3.9" fill="#da8bc3"/>
<polyline points="101.37,819.55 138.51,808.92 175.65,804.47 212.79,802.99 249.93,802.5 287.07,802.25 324.21,802.25 361.35,802" fill="none" stroke="#8c8c8c" stroke-width="2.3" stroke-linejoin="round"/>
<circle cx="101.37" cy="819.55" r="3.9" fill="#8c8c8c"/>
<circle cx="138.51" cy="808.92" r="3.9" fill="#8c8c8c"/>
<circle cx="175.65" cy="804.47" r="3.9" fill="#8c8c8c"/>
<circle cx="212.79" cy="802.99" r="3.9" fill="#8c8c8c"/>
<circle cx="249.93" cy="802.5" r="3.9" fill="#8c8c8c"/>
<circle cx="287.07" cy="802.25" r="3.9" fill="#8c8c8c"/>
<circle cx="324.21" cy="802.25" r="3.9" fill="#8c8c8c"/>
<circle cx="361.35" cy="802" r="3.9" fill="#8c8c8c"/>
<polyline points="102.37,819.06 139.51,801.56 176.65,794.44 213.79,792.56 250.93,792.07 288.07,790.68 325.21,790.19 362.35,789" fill="none" stroke="#ccb974" stroke-width="2.3" stroke-linejoin="round"/>
<circle cx="102.37" cy="819.06" r="3.9" fill="#ccb974"/>
<circle cx="139.51" cy="801.56" r="3.9" fill="#ccb974"/>
<circle cx="176.65" cy="794.44" r="3.9" fill="#ccb974"/>
<circle cx="213.79" cy="792.56" r="3.9" fill="#ccb974"/>
<circle cx="250.93" cy="792.07" r="3.9" fill="#ccb974"/>
<circle cx="288.07" cy="790.68" r="3.9" fill="#ccb974"/>
<circle cx="325.21" cy="790.19" r="3.9" fill="#ccb974"/>
<circle cx="362.35" cy="789" r="3.9" fill="#ccb974"/>
<polyline points="103.37,817.43 140.51,807.74 177.65,803.14 214.79,801.61 251.93,800.82 289.07,800.42 326.21,800.42 363.35,800.03" fill="none" stroke="#64b5cd" stroke-width="2.3" stroke-linejoin="round"/>
<circle cx="103.37" cy="817.43" r="3.9" fill="#64b5cd"/>
<circle cx="140.51" cy="807.74" r="3.9" fill="#64b5cd"/>
<circle cx="177.65" cy="803.14" r="3.9" fill="#64b5cd"/>
<circle cx="214.79" cy="801.61" r="3.9" fill="#64b5cd"/>
<circle cx="251.93" cy="800.82" r="3.9" fill="#64b5cd"/>
<circle cx="289.07" cy="800.42" r="3.9" fill="#64b5cd"/>
<circle cx="326.21" cy="800.42" r="3.9" fill="#64b5cd"/>
<circle cx="363.35" cy="800.03" r="3.9" fill="#64b5cd"/>
<polyline points="104.37,826.82 141.51,817.82 178.65,813.03 215.79,810.7 252.93,810.9 290.07,810.51 327.21,810.51 364.35,810.21" fill="none" stroke="#f7c896" stroke-width="2.3" stroke-linejoin="round"/>
<circle cx="104.37" cy="826.82" r="3.9" fill="#f7c896"/>
<circle cx="141.51" cy="817.82" r="3.9" fill="#f7c896"/>
<circle cx="178.65" cy="813.03" r="3.9" fill="#f7c896"/>
<circle cx="215.79" cy="810.7" r="3.9" fill="#f7c896"/>
<circle cx="252.93" cy="810.9" r="3.9" fill="#f7c896"/>
<circle cx="290.07" cy="810.51" r="3.9" fill="#f7c896"/>
<circle cx="327.21" cy="810.51" r="3.9" fill="#f7c896"/>
<circle cx="364.35" cy="810.21" r="3.9" fill="#f7c896"/>
<circle cx="101.8" cy="846.9" r="3.6" fill="#4c72b0"/>
<text x="114.1" y="849.6" font-size="7.2" text-anchor="start" font-weight="normal" fill="#262626" font-family="'DejaVu Sans', 'Liberation Sans', sans-serif">Boltz-2 (ipTM)</text>
<circle cx="101.8" cy="857.7" r="3.6" fill="#dd8452"/>
<text x="114.1" y="860.4" font-size="7.2" text-anchor="start" font-weight="normal" fill="#262626" font-family="'DejaVu Sans', 'Liberation Sans', sans-serif">Boltz-2 (min-iPAE)</text>
<circle cx="101.8" cy="868.1" r="3.6" fill="#55a868"/>
<text x="114.1" y="870.8" font-size="7.2" text-anchor="start" font-weight="normal" fill="#262626" font-family="'DejaVu Sans', 'Liberation Sans', sans-serif">Protenix (ipTM)</text>
<circle cx="101.8" cy="878.9" r="3.6" fill="#c44e52"/>
<text x="114.1" y="881.6" font-size="7.2" text-anchor="start" font-weight="normal" fill="#262626" font-family="'DejaVu Sans', 'Liberation Sans', sans-serif">Protenix (Glide_SP)</text>
<circle cx="202.9" cy="846.9" r="3.6" fill="#8172b3"/>
<text x="216.3" y="849.6" font-size="7.2" text-anchor="start" font-weight="normal" fill="#262626" font-family="'DejaVu Sans', 'Liberation Sans', sans-serif">Protenix (Glide_XP)</text>
<circle cx="202.9" cy="857.7" r="3.6" fill="#937860"/>
<text x="216.3" y="860.4" font-size="7.2" text-anchor="start" font-weight="normal" fill="#262626" font-family="'DejaVu Sans', 'Liberation Sans', sans-serif">Protenix (Vina)</text>
<circle cx="202.9" cy="868.1" r="3.6" fill="#da8bc3"/>
<text x="216.3" y="870.8" font-size="7.2" text-anchor="start" font-weight="normal" fill="#262626" font-family="'DejaVu Sans', 'Liberation Sans', sans-serif">Protenix (CNNscore)</text>
<circle cx="202.9" cy="878.9" r="3.6" fill="#8c8c8c"/>
<text x="216.3" y="881.6" font-size="7.2" text-anchor="start" font-weight="normal" fill="#262626" font-family="'DejaVu Sans', 'Liberation Sans', sans-serif">Protenix (RTMScore)</text>
<circle cx="309.6" cy="846.9" r="3.6" fill="#ccb974"/>
<text x="321.7" y="849.6" font-size="7.2" text-anchor="start" font-weight="normal" fill="#262626" font-family="'DejaVu Sans', 'Liberation Sans', sans-serif">Glide_SP</text>
<circle cx="309.6" cy="857.7" r="3.6" fill="#64b5cd"/>
<text x="321.7" y="860.4" font-size="7.2" text-anchor="start" font-weight="normal" fill="#262626" font-family="'DejaVu Sans', 'Liberation Sans', sans-serif">Vina</text>
<circle cx="309.6" cy="868.1" r="3.6" fill="#f7c896"/>
<text x="321.7" y="870.8" font-size="7.2" text-anchor="start" font-weight="normal" fill="#262626" font-family="'DejaVu Sans', 'Liberation Sans', sans-serif">CNNscore</text>
<line x1="482.4" y1="693.01" x2="779.52" y2="693.01" stroke="#cccccc" stroke-width="1.3"/>
<text x="468.8" y="698.01" font-size="13.5" text-anchor="end" font-weight="normal" fill="#262626" font-family="'DejaVu Sans', 'Liberation Sans', sans-serif">0.3</text>
<line x1="482.4" y1="742.44" x2="779.52" y2="742.44" stroke="#cccccc" stroke-width="1.3"/>
<text x="468.8" y="747.44" font-size="13.5" text-anchor="end" font-weight="normal" fill="#262626" font-family="'DejaVu Sans', 'Liberation Sans', sans-serif">0.2</text>
<line x1="482.4" y1="791.87" x2="779.52" y2="791.87" stroke="#cccccc" stroke-width="1.3"/>
<text x="468.8" y="796.87" font-size="13.5" text-anchor="end" font-weight="normal" fill="#262626" font-family="'DejaVu Sans', 'Liberation Sans', sans-serif">0.1</text>
<line x1="482.4" y1="841.3" x2="779.52" y2="841.3" stroke="#cccccc" stroke-width="1.3"/>
<text x="468.8" y="846.3" font-size="13.5" text-anchor="end" font-weight="normal" fill="#262626" font-family="'DejaVu Sans', 'Liberation Sans', sans-serif">0.0</text>
<line x1="482.4" y1="890.73" x2="779.52" y2="890.73" stroke="#cccccc" stroke-width="1.3"/>
<text x="468.8" y="895.73" font-size="13.5" text-anchor="end" font-weight="normal" fill="#262626" font-family="'DejaVu Sans', 'Liberation Sans', sans-serif">−0.1</text>
<rect x="482.4" y="693" width="297.12" height="197.7" fill="none" stroke="#cccccc" stroke-width="1.5"/>
<text x="500.97" y="917.9" font-size="16" text-anchor="middle" font-weight="normal" fill="#262626" font-family="'DejaVu Sans', 'Liberation Sans', sans-serif">0.3</text>
<text x="538.11" y="917.9" font-size="16" text-anchor="middle" font-weight="normal" fill="#262626" font-family="'DejaVu Sans', 'Liberation Sans', sans-serif">0.4</text>
<text x="575.25" y="917.9" font-size="16" text-anchor="middle" font-weight="normal" fill="#262626" font-family="'DejaVu Sans', 'Liberation Sans', sans-serif">0.5</text>
<text x="612.39" y="917.9" font-size="16" text-anchor="middle" font-weight="normal" fill="#262626" font-family="'DejaVu Sans', 'Liberation Sans', sans-serif">0.6</text>
<text x="649.53" y="917.9" font-size="16" text-anchor="middle" font-weight="normal" fill="#262626" font-family="'DejaVu Sans', 'Liberation Sans', sans-serif">0.7</text>
<text x="686.67" y="917.9" font-size="16" text-anchor="middle" font-weight="normal" fill="#262626" font-family="'DejaVu Sans', 'Liberation Sans', sans-serif">0.8</text>
<text x="723.81" y="917.9" font-size="16" text-anchor="middle" font-weight="normal" fill="#262626" font-family="'DejaVu Sans', 'Liberation Sans', sans-serif">0.9</text>
<text x="760.95" y="917.9" font-size="16" text-anchor="middle" font-weight="normal" fill="#262626" font-family="'DejaVu Sans', 'Liberation Sans', sans-serif">1.0</text>
<text x="630.96" y="940" font-size="15.2" text-anchor="middle" font-weight="normal" fill="#262626" font-family="'DejaVu Sans', 'Liberation Sans', sans-serif">Scaffold Similarity</text>
<text x="0" y="0" font-size="15.4" text-anchor="middle" fill="#262626" font-family="'DejaVu Sans', 'Liberation Sans', sans-serif" transform="translate(428.9 792.9) rotate(-90)">BEDROC</text>
<text x="398.3" y="715" font-size="19.2" text-anchor="start" font-weight="bold" fill="#000" font-family="'DejaVu Sans', sans-serif">E</text>
<polyline points="495.97,768 533.11,757.86 570.25,742 607.39,734.78 644.53,733 681.67,731.52 718.81,731.02 755.95,724.5" fill="none" stroke="#4c72b0" stroke-width="2.3" stroke-linejoin="round"/>
<circle cx="495.97" cy="768" r="3.9" fill="#4c72b0"/>
<circle cx="533.11" cy="757.86" r="3.9" fill="#4c72b0"/>
<circle cx="570.25" cy="742" r="3.9" fill="#4c72b0"/>
<circle cx="607.39" cy="734.78" r="3.9" fill="#4c72b0"/>
<circle cx="644.53" cy="733" r="3.9" fill="#4c72b0"/>
<circle cx="681.67" cy="731.52" r="3.9" fill="#4c72b0"/>
<circle cx="718.81" cy="731.02" r="3.9" fill="#4c72b0"/>
<circle cx="755.95" cy="724.5" r="3.9" fill="#4c72b0"/>
<polyline points="496.97,729.34 534.11,742.93 571.25,722.42 608.39,711.4 645.53,710.01 682.67,708.48 719.81,708.48 756.95,707.99" fill="none" stroke="#dd8452" stroke-width="2.3" stroke-linejoin="round"/>
<circle cx="496.97" cy="729.34" r="3.9" fill="#dd8452"/>
<circle cx="534.11" cy="742.93" r="3.9" fill="#dd8452"/>
<circle cx="571.25" cy="722.42" r="3.9" fill="#dd8452"/>
<circle cx="608.39" cy="711.4" r="3.9" fill="#dd8452"/>
<circle cx="645.53" cy="710.01" r="3.9" fill="#dd8452"/>
<circle cx="682.67" cy="708.48" r="3.9" fill="#dd8452"/>
<circle cx="719.81" cy="708.48" r="3.9" fill="#dd8452"/>
<circle cx="756.95" cy="707.99" r="3.9" fill="#dd8452"/>
<polyline points="497.97,773.48 535.11,793.2 572.25,785.3 609.39,779.91 646.53,778.82 683.67,778.03 720.81,778.43 757.95,774.17" fill="none" stroke="#55a868" stroke-width="2.3" stroke-linejoin="round"/>
<circle cx="497.97" cy="773.48" r="3.9" fill="#55a868"/>
<circle cx="535.11" cy="793.2" r="3.9" fill="#55a868"/>
<circle cx="572.25" cy="785.3" r="3.9" fill="#55a868"/>
<circle cx="609.39" cy="779.91" r="3.9" fill="#55a868"/>
<circle cx="646.53" cy="778.82" r="3.9" fill="#55a868"/>
<circle cx="683.67" cy="778.03" r="3.9" fill="#55a868"/>
<circle cx="720.81" cy="778.43" r="3.9" fill="#55a868"/>
<circle cx="757.95" cy="774.17" r="3.9" fill="#55a868"/>
<polyline points="498.97,820.69 536.11,821.18 573.25,807.69 610.39,800.42 647.53,800.27 684.67,800.03 721.81,800.03 758.95,799.78" fill="none" stroke="#c44e52" stroke-width="2.3" stroke-linejoin="round"/>
<circle cx="498.97" cy="820.69" r="3.9" fill="#c44e52"/>
<circle cx="536.11" cy="821.18" r="3.9" fill="#c44e52"/>
<circle cx="573.25" cy="807.69" r="3.9" fill="#c44e52"/>
<circle cx="610.39" cy="800.42" r="3.9" fill="#c44e52"/>
<circle cx="647.53" cy="800.27" r="3.9" fill="#c44e52"/>
<circle cx="684.67" cy="800.03" r="3.9" fill="#c44e52"/>
<circle cx="721.81" cy="800.03" r="3.9" fill="#c44e52"/>
<circle cx="758.95" cy="799.78" r="3.9" fill="#c44e52"/>
<polyline points="499.97,825.28 537.11,819.7 574.25,808.18 611.39,802.25 648.53,801.76 685.67,801.26 722.81,801.26 759.95,801.76" fill="none" stroke="#8172b3" stroke-width="2.3" stroke-linejoin="round"/>
<circle cx="499.97" cy="825.28" r="3.9" fill="#8172b3"/>
<circle cx="537.11" cy="819.7" r="3.9" fill="#8172b3"/>
<circle cx="574.25" cy="808.18" r="3.9" fill="#8172b3"/>
<circle cx="611.39" cy="802.25" r="3.9" fill="#8172b3"/>
<circle cx="648.53" cy="801.76" r="3.9" fill="#8172b3"/>
<circle cx="685.67" cy="801.26" r="3.9" fill="#8172b3"/>
<circle cx="722.81" cy="801.26" r="3.9" fill="#8172b3"/>
<circle cx="759.95" cy="801.76" r="3.9" fill="#8172b3"/>
<polyline points="500.97,800.82 538.11,811.99 575.25,809.42 612.39,804.62 649.53,803.24 686.67,802.99 723.81,802.99 760.95,803.29" fill="none" stroke="#937860" stroke-width="2.3" stroke-linejoin="round"/>
<circle cx="500.97" cy="800.82" r="3.9" fill="#937860"/>
<circle cx="538.11" cy="811.99" r="3.9" fill="#937860"/>
<circle cx="575.25" cy="809.42" r="3.9" fill="#937860"/>
<circle cx="612.39" cy="804.62" r="3.9" fill="#937860"/>
<circle cx="649.53" cy="803.24" r="3.9" fill="#937860"/>
<circle cx="686.67" cy="802.99" r="3.9" fill="#937860"/>
<circle cx="723.81" cy="802.99" r="3.9" fill="#937860"/>
<circle cx="760.95" cy="803.29" r="3.9" fill="#937860"/>
<polyline points="501.97,809.22 539.11,801.81 576.25,788.31 613.39,783.62 650.53,783.62 687.67,783.22 724.81,783.22 761.95,782.58" fill="none" stroke="#da8bc3" stroke-width="2.3" stroke-linejoin="round"/>
<circle cx="501.97" cy="809.22" r="3.9" fill="#da8bc3"/>
<circle cx="539.11" cy="801.81" r="3.9" fill="#da8bc3"/>
<circle cx="576.25" cy="788.31" r="3.9" fill="#da8bc3"/>
<circle cx="613.39" cy="783.62" r="3.9" fill="#da8bc3"/>
<circle cx="650.53" cy="783.62" r="3.9" fill="#da8bc3"/>
<circle cx="687.67" cy="783.22" r="3.9" fill="#da8bc3"/>
<circle cx="724.81" cy="783.22" r="3.9" fill="#da8bc3"/>
<circle cx="761.95" cy="782.58" r="3.9" fill="#da8bc3"/>
<polyline points="502.97,827.46 540.11,816.59 577.25,809.17 614.39,803.73 651.53,802.74 688.67,802.5 725.81,802.5 762.95,802.74" fill="none" stroke="#8c8c8c" stroke-width="2.3" stroke-linejoin="round"/>
<circle cx="502.97" cy="827.46" r="3.9" fill="#8c8c8c"/>
<circle cx="540.11" cy="816.59" r="3.9" fill="#8c8c8c"/>
<circle cx="577.25" cy="809.17" r="3.9" fill="#8c8c8c"/>
<circle cx="614.39" cy="803.73" r="3.9" fill="#8c8c8c"/>
<circle cx="651.53" cy="802.74" r="3.9" fill="#8c8c8c"/>
<circle cx="688.67" cy="802.5" r="3.9" fill="#8c8c8c"/>
<circle cx="725.81" cy="802.5" r="3.9" fill="#8c8c8c"/>
<circle cx="762.95" cy="802.74" r="3.9" fill="#8c8c8c"/>
<polyline points="503.97,824.3 541.11,815.1 578.25,799.38 615.39,794.69 652.53,793.7 689.67,792.22 726.81,791.38 763.95,788.51" fill="none" stroke="#ccb974" stroke-width="2.3" stroke-linejoin="round"/>
<circle cx="503.97" cy="824.3" r="3.9" fill="#ccb974"/>
<circle cx="541.11" cy="815.1" r="3.9" fill="#ccb974"/>
<circle cx="578.25" cy="799.38" r="3.9" fill="#ccb974"/>
<circle cx="615.39" cy="794.69" r="3.9" fill="#ccb974"/>
<circle cx="652.53" cy="793.7" r="3.9" fill="#ccb974"/>
<circle cx="689.67" cy="792.22" r="3.9" fill="#ccb974"/>
<circle cx="726.81" cy="791.38" r="3.9" fill="#ccb974"/>
<circle cx="763.95" cy="788.51" r="3.9" fill="#ccb974"/>
<polyline points="504.97,796.22 542.11,810.01 579.25,805.61 616.39,802.7 653.53,800.42 690.67,799.98 727.81,799.78 764.95,799.98" fill="none" stroke="#64b5cd" stroke-width="2.3" stroke-linejoin="round"/>
<circle cx="504.97" cy="796.22" r="3.9" fill="#64b5cd"/>
<circle cx="542.11" cy="810.01" r="3.9" fill="#64b5cd"/>
<circle cx="579.25" cy="805.61" r="3.9" fill="#64b5cd"/>
<circle cx="616.39" cy="802.7" r="3.9" fill="#64b5cd"/>
<circle cx="653.53" cy="800.42" r="3.9" fill="#64b5cd"/>
<circle cx="690.67" cy="799.98" r="3.9" fill="#64b5cd"/>
<circle cx="727.81" cy="799.78" r="3.9" fill="#64b5cd"/>
<circle cx="764.95" cy="799.98" r="3.9" fill="#64b5cd"/>
<polyline points="505.97,828.4 543.11,823.8 580.25,819.01 617.39,815.7 654.53,815.1 691.67,814.41 728.81,813.82 765.95,810.01" fill="none" stroke="#f7c896" stroke-width="2.3" stroke-linejoin="round"/>
<circle cx="505.97" cy="828.4" r="3.9" fill="#f7c896"/>
<circle cx="543.11" cy="823.8" r="3.9" fill="#f7c896"/>
<circle cx="580.25" cy="819.01" r="3.9" fill="#f7c896"/>
<circle cx="617.39" cy="815.7" r="3.9" fill="#f7c896"/>
<circle cx="654.53" cy="815.1" r="3.9" fill="#f7c896"/>
<circle cx="691.67" cy="814.41" r="3.9" fill="#f7c896"/>
<circle cx="728.81" cy="813.82" r="3.9" fill="#f7c896"/>
<circle cx="765.95" cy="810.01" r="3.9" fill="#f7c896"/>
<circle cx="503.4" cy="846.9" r="3.6" fill="#4c72b0"/>
<text x="515.7" y="849.6" font-size="7.2" text-anchor="start" font-weight="normal" fill="#262626" font-family="'DejaVu Sans', 'Liberation Sans', sans-serif">Boltz-2 (ipTM)</text>
<circle cx="503.4" cy="857.7" r="3.6" fill="#dd8452"/>
<text x="515.7" y="860.4" font-size="7.2" text-anchor="start" font-weight="normal" fill="#262626" font-family="'DejaVu Sans', 'Liberation Sans', sans-serif">Boltz-2 (min-iPAE)</text>
<circle cx="503.4" cy="868.1" r="3.6" fill="#55a868"/>
<text x="515.7" y="870.8" font-size="7.2" text-anchor="start" font-weight="normal" fill="#262626" font-family="'DejaVu Sans', 'Liberation Sans', sans-serif">Protenix (ipTM)</text>
<circle cx="503.4" cy="878.9" r="3.6" fill="#c44e52"/>
<text x="515.7" y="881.6" font-size="7.2" text-anchor="start" font-weight="normal" fill="#262626" font-family="'DejaVu Sans', 'Liberation Sans', sans-serif">Protenix (Glide_SP)</text>
<circle cx="604.5" cy="846.9" r="3.6" fill="#8172b3"/>
<text x="617.9" y="849.6" font-size="7.2" text-anchor="start" font-weight="normal" fill="#262626" font-family="'DejaVu Sans', 'Liberation Sans', sans-serif">Protenix (Glide_XP)</text>
<circle cx="604.5" cy="857.7" r="3.6" fill="#937860"/>
<text x="617.9" y="860.4" font-size="7.2" text-anchor="start" font-weight="normal" fill="#262626" font-family="'DejaVu Sans', 'Liberation Sans', sans-serif">Protenix (Vina)</text>
<circle cx="604.5" cy="868.1" r="3.6" fill="#da8bc3"/>
<text x="617.9" y="870.8" font-size="7.2" text-anchor="start" font-weight="normal" fill="#262626" font-family="'DejaVu Sans', 'Liberation Sans', sans-serif">Protenix (CNNscore)</text>
<circle cx="604.5" cy="878.9" r="3.6" fill="#8c8c8c"/>
<text x="617.9" y="881.6" font-size="7.2" text-anchor="start" font-weight="normal" fill="#262626" font-family="'DejaVu Sans', 'Liberation Sans', sans-serif">Protenix (RTMScore)</text>
<circle cx="711.2" cy="846.9" r="3.6" fill="#ccb974"/>
<text x="723.3" y="849.6" font-size="7.2" text-anchor="start" font-weight="normal" fill="#262626" font-family="'DejaVu Sans', 'Liberation Sans', sans-serif">Glide_SP</text>
<circle cx="711.2" cy="857.7" r="3.6" fill="#64b5cd"/>
<text x="723.3" y="860.4" font-size="7.2" text-anchor="start" font-weight="normal" fill="#262626" font-family="'DejaVu Sans', 'Liberation Sans', sans-serif">Vina</text>
<circle cx="711.2" cy="868.1" r="3.6" fill="#f7c896"/>
<text x="723.3" y="870.8" font-size="7.2" text-anchor="start" font-weight="normal" fill="#262626" font-family="'DejaVu Sans', 'Liberation Sans', sans-serif">CNNscore</text>
</svg>
</body></html>
